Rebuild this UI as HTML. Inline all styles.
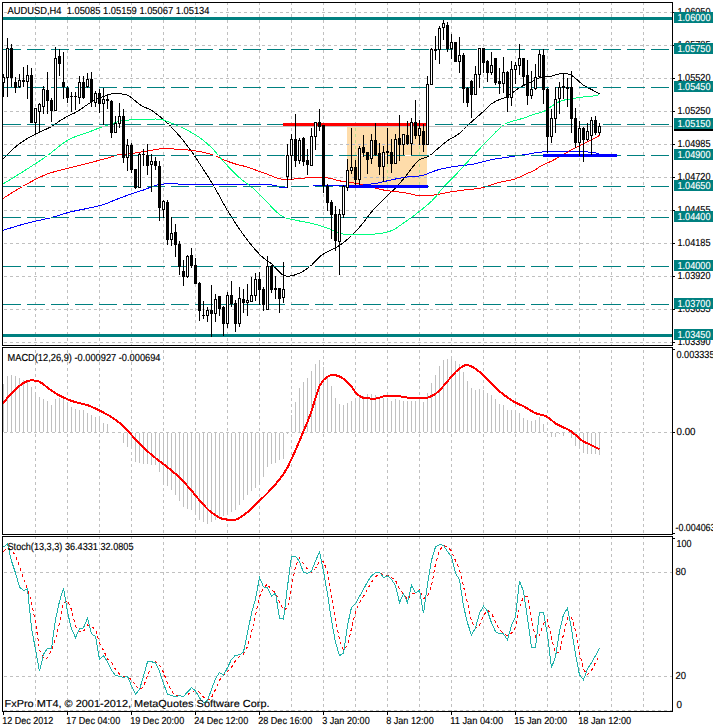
<!DOCTYPE html>
<html><head><meta charset="utf-8"><style>
html,body{margin:0;padding:0;background:#fff;overflow:hidden;}
svg{display:block;font-family:"Liberation Sans", sans-serif;}
</style></head><body>
<svg width="713" height="728" viewBox="0 0 713 728" shape-rendering="crispEdges">
<rect width="713" height="728" fill="#fff"/>
<defs><clipPath id="cm"><rect x="3" y="3" width="669" height="342"/></clipPath><clipPath id="cd"><rect x="3" y="348" width="669" height="186"/></clipPath><clipPath id="cs"><rect x="3" y="537" width="669" height="174"/></clipPath></defs>
<g clip-path="url(#cm)">
<rect x="347" y="125" width="80" height="62" fill="#fedcaa"/>
<line x1="35.5" y1="2" x2="35.5" y2="345" stroke="#c0c0c0" stroke-width="1" stroke-dasharray="3 3" stroke-dashoffset="0"/>
<line x1="67.5" y1="2" x2="67.5" y2="345" stroke="#c0c0c0" stroke-width="1" stroke-dasharray="3 3" stroke-dashoffset="0"/>
<line x1="99.5" y1="2" x2="99.5" y2="345" stroke="#c0c0c0" stroke-width="1" stroke-dasharray="3 3" stroke-dashoffset="0"/>
<line x1="131.5" y1="2" x2="131.5" y2="345" stroke="#c0c0c0" stroke-width="1" stroke-dasharray="3 3" stroke-dashoffset="0"/>
<line x1="163.5" y1="2" x2="163.5" y2="345" stroke="#c0c0c0" stroke-width="1" stroke-dasharray="3 3" stroke-dashoffset="0"/>
<line x1="195.5" y1="2" x2="195.5" y2="345" stroke="#c0c0c0" stroke-width="1" stroke-dasharray="3 3" stroke-dashoffset="0"/>
<line x1="227.5" y1="2" x2="227.5" y2="345" stroke="#c0c0c0" stroke-width="1" stroke-dasharray="3 3" stroke-dashoffset="0"/>
<line x1="259.5" y1="2" x2="259.5" y2="345" stroke="#c0c0c0" stroke-width="1" stroke-dasharray="3 3" stroke-dashoffset="0"/>
<line x1="291.5" y1="2" x2="291.5" y2="345" stroke="#c0c0c0" stroke-width="1" stroke-dasharray="3 3" stroke-dashoffset="0"/>
<line x1="323.5" y1="2" x2="323.5" y2="345" stroke="#c0c0c0" stroke-width="1" stroke-dasharray="3 3" stroke-dashoffset="0"/>
<line x1="355.5" y1="2" x2="355.5" y2="345" stroke="#c0c0c0" stroke-width="1" stroke-dasharray="3 3" stroke-dashoffset="0"/>
<line x1="387.5" y1="2" x2="387.5" y2="345" stroke="#c0c0c0" stroke-width="1" stroke-dasharray="3 3" stroke-dashoffset="0"/>
<line x1="419.5" y1="2" x2="419.5" y2="345" stroke="#c0c0c0" stroke-width="1" stroke-dasharray="3 3" stroke-dashoffset="0"/>
<line x1="451.5" y1="2" x2="451.5" y2="345" stroke="#c0c0c0" stroke-width="1" stroke-dasharray="3 3" stroke-dashoffset="0"/>
<line x1="483.5" y1="2" x2="483.5" y2="345" stroke="#c0c0c0" stroke-width="1" stroke-dasharray="3 3" stroke-dashoffset="0"/>
<line x1="515.5" y1="2" x2="515.5" y2="345" stroke="#c0c0c0" stroke-width="1" stroke-dasharray="3 3" stroke-dashoffset="0"/>
<line x1="547.5" y1="2" x2="547.5" y2="345" stroke="#c0c0c0" stroke-width="1" stroke-dasharray="3 3" stroke-dashoffset="0"/>
<line x1="579.5" y1="2" x2="579.5" y2="345" stroke="#c0c0c0" stroke-width="1" stroke-dasharray="3 3" stroke-dashoffset="0"/>
<line x1="611.5" y1="2" x2="611.5" y2="345" stroke="#c0c0c0" stroke-width="1" stroke-dasharray="3 3" stroke-dashoffset="0"/>
<line x1="643.5" y1="2" x2="643.5" y2="345" stroke="#c0c0c0" stroke-width="1" stroke-dasharray="3 3" stroke-dashoffset="0"/>
<line x1="4" y1="12.5" x2="672" y2="12.5" stroke="#c0c0c0" stroke-width="1" stroke-dasharray="3 3" stroke-dashoffset="0"/>
<line x1="4" y1="45.5" x2="672" y2="45.5" stroke="#c0c0c0" stroke-width="1" stroke-dasharray="3 3" stroke-dashoffset="0"/>
<line x1="4" y1="78.5" x2="672" y2="78.5" stroke="#c0c0c0" stroke-width="1" stroke-dasharray="3 3" stroke-dashoffset="0"/>
<line x1="4" y1="111.5" x2="672" y2="111.5" stroke="#c0c0c0" stroke-width="1" stroke-dasharray="3 3" stroke-dashoffset="0"/>
<line x1="4" y1="144.5" x2="672" y2="144.5" stroke="#c0c0c0" stroke-width="1" stroke-dasharray="3 3" stroke-dashoffset="0"/>
<line x1="4" y1="177.5" x2="672" y2="177.5" stroke="#c0c0c0" stroke-width="1" stroke-dasharray="3 3" stroke-dashoffset="0"/>
<line x1="4" y1="210.5" x2="672" y2="210.5" stroke="#c0c0c0" stroke-width="1" stroke-dasharray="3 3" stroke-dashoffset="0"/>
<line x1="4" y1="243.5" x2="672" y2="243.5" stroke="#c0c0c0" stroke-width="1" stroke-dasharray="3 3" stroke-dashoffset="0"/>
<line x1="4" y1="276.5" x2="672" y2="276.5" stroke="#c0c0c0" stroke-width="1" stroke-dasharray="3 3" stroke-dashoffset="0"/>
<line x1="4" y1="309.5" x2="672" y2="309.5" stroke="#c0c0c0" stroke-width="1" stroke-dasharray="3 3" stroke-dashoffset="0"/>
<line x1="4" y1="342.5" x2="672" y2="342.5" stroke="#c0c0c0" stroke-width="1" stroke-dasharray="3 3" stroke-dashoffset="0"/>
<clipPath id="cr"><rect x="347" y="125" width="80" height="62"/></clipPath><g clip-path="url(#cr)">
<line x1="35.5" y1="2" x2="35.5" y2="345" stroke="#b8dc90" stroke-width="1" stroke-dasharray="3 3" stroke-dashoffset="0"/>
<line x1="67.5" y1="2" x2="67.5" y2="345" stroke="#b8dc90" stroke-width="1" stroke-dasharray="3 3" stroke-dashoffset="0"/>
<line x1="99.5" y1="2" x2="99.5" y2="345" stroke="#b8dc90" stroke-width="1" stroke-dasharray="3 3" stroke-dashoffset="0"/>
<line x1="131.5" y1="2" x2="131.5" y2="345" stroke="#b8dc90" stroke-width="1" stroke-dasharray="3 3" stroke-dashoffset="0"/>
<line x1="163.5" y1="2" x2="163.5" y2="345" stroke="#b8dc90" stroke-width="1" stroke-dasharray="3 3" stroke-dashoffset="0"/>
<line x1="195.5" y1="2" x2="195.5" y2="345" stroke="#b8dc90" stroke-width="1" stroke-dasharray="3 3" stroke-dashoffset="0"/>
<line x1="227.5" y1="2" x2="227.5" y2="345" stroke="#b8dc90" stroke-width="1" stroke-dasharray="3 3" stroke-dashoffset="0"/>
<line x1="259.5" y1="2" x2="259.5" y2="345" stroke="#b8dc90" stroke-width="1" stroke-dasharray="3 3" stroke-dashoffset="0"/>
<line x1="291.5" y1="2" x2="291.5" y2="345" stroke="#b8dc90" stroke-width="1" stroke-dasharray="3 3" stroke-dashoffset="0"/>
<line x1="323.5" y1="2" x2="323.5" y2="345" stroke="#b8dc90" stroke-width="1" stroke-dasharray="3 3" stroke-dashoffset="0"/>
<line x1="355.5" y1="2" x2="355.5" y2="345" stroke="#b8dc90" stroke-width="1" stroke-dasharray="3 3" stroke-dashoffset="0"/>
<line x1="387.5" y1="2" x2="387.5" y2="345" stroke="#b8dc90" stroke-width="1" stroke-dasharray="3 3" stroke-dashoffset="0"/>
<line x1="419.5" y1="2" x2="419.5" y2="345" stroke="#b8dc90" stroke-width="1" stroke-dasharray="3 3" stroke-dashoffset="0"/>
<line x1="451.5" y1="2" x2="451.5" y2="345" stroke="#b8dc90" stroke-width="1" stroke-dasharray="3 3" stroke-dashoffset="0"/>
<line x1="483.5" y1="2" x2="483.5" y2="345" stroke="#b8dc90" stroke-width="1" stroke-dasharray="3 3" stroke-dashoffset="0"/>
<line x1="515.5" y1="2" x2="515.5" y2="345" stroke="#b8dc90" stroke-width="1" stroke-dasharray="3 3" stroke-dashoffset="0"/>
<line x1="547.5" y1="2" x2="547.5" y2="345" stroke="#b8dc90" stroke-width="1" stroke-dasharray="3 3" stroke-dashoffset="0"/>
<line x1="579.5" y1="2" x2="579.5" y2="345" stroke="#b8dc90" stroke-width="1" stroke-dasharray="3 3" stroke-dashoffset="0"/>
<line x1="611.5" y1="2" x2="611.5" y2="345" stroke="#b8dc90" stroke-width="1" stroke-dasharray="3 3" stroke-dashoffset="0"/>
<line x1="643.5" y1="2" x2="643.5" y2="345" stroke="#b8dc90" stroke-width="1" stroke-dasharray="3 3" stroke-dashoffset="0"/>
<line x1="4" y1="12.5" x2="672" y2="12.5" stroke="#b4bccc" stroke-width="1" stroke-dasharray="3 3" stroke-dashoffset="0"/>
<line x1="4" y1="45.5" x2="672" y2="45.5" stroke="#b4bccc" stroke-width="1" stroke-dasharray="3 3" stroke-dashoffset="0"/>
<line x1="4" y1="78.5" x2="672" y2="78.5" stroke="#b4bccc" stroke-width="1" stroke-dasharray="3 3" stroke-dashoffset="0"/>
<line x1="4" y1="111.5" x2="672" y2="111.5" stroke="#b4bccc" stroke-width="1" stroke-dasharray="3 3" stroke-dashoffset="0"/>
<line x1="4" y1="144.5" x2="672" y2="144.5" stroke="#b4bccc" stroke-width="1" stroke-dasharray="3 3" stroke-dashoffset="0"/>
<line x1="4" y1="177.5" x2="672" y2="177.5" stroke="#b4bccc" stroke-width="1" stroke-dasharray="3 3" stroke-dashoffset="0"/>
<line x1="4" y1="210.5" x2="672" y2="210.5" stroke="#b4bccc" stroke-width="1" stroke-dasharray="3 3" stroke-dashoffset="0"/>
<line x1="4" y1="243.5" x2="672" y2="243.5" stroke="#b4bccc" stroke-width="1" stroke-dasharray="3 3" stroke-dashoffset="0"/>
<line x1="4" y1="276.5" x2="672" y2="276.5" stroke="#b4bccc" stroke-width="1" stroke-dasharray="3 3" stroke-dashoffset="0"/>
<line x1="4" y1="309.5" x2="672" y2="309.5" stroke="#b4bccc" stroke-width="1" stroke-dasharray="3 3" stroke-dashoffset="0"/>
<line x1="4" y1="342.5" x2="672" y2="342.5" stroke="#b4bccc" stroke-width="1" stroke-dasharray="3 3" stroke-dashoffset="0"/>
</g>
<polyline points="-0.5,231.5 3.5,230.2 7.5,228.9 11.5,227.7 15.5,226.5 19.5,225.3 23.5,224.2 27.5,223.1 31.5,222.1 35.5,221.2 39.5,220.3 43.5,219.4 47.5,218.5 51.5,217.5 55.5,216.4 59.5,215.1 63.5,213.9 67.5,212.7 71.5,211.7 75.5,210.8 79.5,210.0 83.5,209.2 87.5,208.4 91.5,207.5 95.5,206.6 99.5,205.7 103.5,204.5 107.5,203.1 111.5,201.4 115.5,199.8 119.5,198.2 123.5,196.7 127.5,195.3 131.5,193.9 135.5,192.6 139.5,191.3 143.5,190.0 147.5,188.4 151.5,186.8 155.5,185.4 159.5,184.6 163.5,184.1 167.5,183.7 171.5,183.4 175.5,183.3 179.5,184.3 183.5,184.6 187.5,184.6 191.5,184.6 195.5,184.6 199.5,184.6 203.5,184.6 207.5,184.6 211.5,184.6 215.5,184.6 219.5,184.6 223.5,184.6 227.5,184.6 231.5,184.6 235.5,184.7 239.5,184.7 243.5,184.7 247.5,184.7 251.5,184.8 255.5,184.8 259.5,184.8 263.5,184.9 267.5,184.9 271.5,185.0 275.5,185.2 279.5,187.0 283.5,187.0 287.5,187.0 291.5,186.5 295.5,186.5 299.5,186.5 303.5,186.5 307.5,186.5 311.5,186.5 315.5,185.5 319.5,185.5 323.5,185.5 327.5,185.5 331.5,185.5 335.5,185.5 339.5,185.5 343.5,185.5 347.5,185.5 351.5,185.5 355.5,185.3 359.5,185.1 363.5,184.8 367.5,184.4 371.5,184.0 375.5,183.5 379.5,182.7 383.5,181.7 387.5,180.8 391.5,179.9 395.5,179.0 399.5,178.2 403.5,177.5 407.5,177.0 411.5,176.7 415.5,176.4 419.5,176.0 423.5,175.2 427.5,173.8 431.5,172.1 435.5,170.6 439.5,169.4 443.5,168.5 447.5,167.7 451.5,166.9 455.5,166.3 459.5,165.8 463.5,165.4 467.5,165.0 471.5,164.5 475.5,163.7 479.5,162.7 483.5,161.6 487.5,160.6 491.5,159.6 495.5,159.0 499.5,158.4 503.5,157.8 507.5,157.2 511.5,156.6 515.5,156.0 519.5,155.4 523.5,154.8 527.5,154.2 531.5,153.5 535.5,152.7 539.5,152.2 543.5,151.9 547.5,151.7 551.5,151.6 555.5,151.6 559.5,151.5 563.5,151.5 567.5,151.5 571.5,151.4 575.5,151.4 579.5,151.4 583.5,151.5 587.5,152.0 591.5,152.6 595.5,153.0 599.5,153.4" fill="none" stroke="#0000ff" stroke-width="1" shape-rendering="crispEdges"/>
<polyline points="-0.5,163.2 3.5,158.6 7.5,154.3 11.5,150.4 15.5,146.9 19.5,143.8 23.5,140.9 27.5,138.4 31.5,136.2 35.5,134.1 39.5,132.1 43.5,130.4 47.5,128.5 51.5,126.5 55.5,124.0 59.5,121.1 63.5,118.5 67.5,116.3 71.5,114.4 75.5,112.5 79.5,110.1 83.5,107.3 87.5,104.5 91.5,102.1 95.5,99.8 99.5,97.9 103.5,96.4 107.5,95.0 111.5,93.9 115.5,93.5 119.5,93.7 123.5,94.3 127.5,95.2 131.5,97.7 135.5,101.0 139.5,104.4 143.5,106.8 147.5,108.4 151.5,110.4 155.5,113.1 159.5,116.2 163.5,119.6 167.5,123.2 171.5,127.2 175.5,131.5 179.5,136.0 183.5,140.8 187.5,146.0 191.5,151.4 195.5,157.3 199.5,163.4 203.5,169.6 207.5,175.8 211.5,182.2 215.5,189.0 219.5,196.2 223.5,203.6 227.5,210.5 231.5,216.9 235.5,223.2 239.5,229.2 243.5,234.8 247.5,240.2 251.5,245.3 255.5,250.0 259.5,254.3 263.5,258.1 267.5,261.0 271.5,263.7 275.5,268.0 279.5,272.1 283.5,275.6 287.5,276.3 291.5,275.9 295.5,274.7 299.5,273.2 303.5,271.0 307.5,268.4 311.5,265.3 315.5,261.0 319.5,256.8 323.5,253.9 327.5,251.7 331.5,249.8 335.5,247.8 339.5,245.5 343.5,242.6 347.5,239.2 351.5,235.5 355.5,231.5 359.5,227.3 363.5,222.5 367.5,217.2 371.5,212.0 375.5,207.5 379.5,203.4 383.5,199.6 387.5,195.7 391.5,191.8 395.5,187.9 399.5,183.6 403.5,178.9 407.5,174.0 411.5,168.6 415.5,163.5 419.5,159.8 423.5,158.1 427.5,156.9 431.5,154.4 435.5,150.7 439.5,147.3 443.5,143.8 447.5,140.7 451.5,138.2 455.5,136.1 459.5,133.2 463.5,129.5 467.5,125.6 471.5,121.9 475.5,118.4 479.5,114.9 483.5,111.4 487.5,107.5 491.5,103.8 495.5,101.3 499.5,99.6 503.5,98.1 507.5,96.1 511.5,93.4 515.5,90.4 519.5,87.7 523.5,85.5 527.5,83.5 531.5,81.6 535.5,79.7 539.5,77.8 543.5,76.8 547.5,76.6 551.5,76.2 555.5,74.9 559.5,73.8 563.5,73.4 567.5,73.7 571.5,75.1 575.5,78.4 579.5,81.9 583.5,85.3 587.5,87.6 591.5,89.5 595.5,91.6 599.5,93.9" fill="none" stroke="#000000" stroke-width="1" shape-rendering="crispEdges"/>
<polyline points="-0.5,200.9 3.5,198.2 7.5,195.6 11.5,193.0 15.5,190.6 19.5,188.2 23.5,186.0 27.5,183.7 31.5,181.5 35.5,179.4 39.5,177.4 43.5,175.5 47.5,173.9 51.5,172.6 55.5,171.4 59.5,170.4 63.5,169.4 67.5,168.4 71.5,167.4 75.5,166.3 79.5,165.4 83.5,164.4 87.5,163.4 91.5,162.4 95.5,161.3 99.5,160.2 103.5,159.2 107.5,158.1 111.5,156.9 115.5,155.5 119.5,154.5 123.5,154.2 127.5,153.9 131.5,153.5 135.5,152.9 139.5,152.2 143.5,151.5 147.5,150.9 151.5,150.3 155.5,149.6 159.5,149.0 163.5,148.8 167.5,148.8 171.5,148.9 175.5,149.1 179.5,149.2 183.5,149.5 187.5,149.9 191.5,150.4 195.5,151.0 199.5,151.6 203.5,152.4 207.5,153.3 211.5,154.4 215.5,155.9 219.5,157.8 223.5,159.7 227.5,161.3 231.5,162.7 235.5,164.0 239.5,165.1 243.5,166.0 247.5,167.1 251.5,168.5 255.5,170.0 259.5,171.5 263.5,172.9 267.5,174.3 271.5,175.8 275.5,177.6 279.5,178.8 283.5,179.3 287.5,179.5 291.5,179.3 295.5,178.8 299.5,178.5 303.5,178.1 307.5,177.8 311.5,177.5 315.5,177.3 319.5,177.2 323.5,177.4 327.5,177.9 331.5,178.5 335.5,179.9 339.5,180.9 343.5,181.3 347.5,181.7 351.5,182.4 355.5,183.3 359.5,184.2 363.5,185.1 367.5,186.2 371.5,187.2 375.5,188.1 379.5,189.1 383.5,190.0 387.5,190.7 391.5,191.3 395.5,191.7 399.5,192.1 403.5,192.6 407.5,193.3 411.5,194.2 415.5,195.2 419.5,195.7 423.5,195.7 427.5,195.5 431.5,195.3 435.5,194.9 439.5,194.1 443.5,193.2 447.5,192.5 451.5,191.8 455.5,191.2 459.5,190.6 463.5,190.1 467.5,189.6 471.5,189.3 475.5,188.9 479.5,188.4 483.5,187.5 487.5,186.1 491.5,184.8 495.5,183.5 499.5,182.3 503.5,181.4 507.5,180.7 511.5,179.9 515.5,178.8 519.5,177.1 523.5,175.1 527.5,173.3 531.5,171.7 535.5,169.7 539.5,166.9 543.5,164.6 547.5,162.9 551.5,161.1 555.5,159.0 559.5,156.8 563.5,154.5 567.5,152.1 571.5,149.8 575.5,147.7 579.5,145.7 583.5,143.7 587.5,141.8 591.5,139.8 595.5,137.7 599.5,135.4" fill="none" stroke="#ff0000" stroke-width="1" shape-rendering="crispEdges"/>
<polyline points="-0.5,186.0 3.5,183.6 7.5,181.2 11.5,178.8 15.5,176.3 19.5,173.8 23.5,171.3 27.5,168.8 31.5,166.2 35.5,163.6 39.5,161.0 43.5,158.3 47.5,155.5 51.5,152.4 55.5,149.2 59.5,146.0 63.5,143.0 67.5,140.3 71.5,138.3 75.5,136.6 79.5,135.1 83.5,133.7 87.5,132.4 91.5,131.0 95.5,129.4 99.5,127.9 103.5,126.4 107.5,125.1 111.5,123.8 115.5,122.5 119.5,121.4 123.5,120.6 127.5,120.1 131.5,119.8 135.5,119.6 139.5,119.5 143.5,119.3 147.5,119.2 151.5,119.1 155.5,119.0 159.5,119.1 163.5,120.0 167.5,121.5 171.5,123.2 175.5,124.8 179.5,126.5 183.5,128.3 187.5,130.3 191.5,132.5 195.5,134.9 199.5,137.5 203.5,140.5 207.5,143.9 211.5,147.6 215.5,151.9 219.5,156.7 223.5,161.5 227.5,165.8 231.5,170.0 235.5,174.1 239.5,177.8 243.5,181.1 247.5,184.1 251.5,187.0 255.5,190.3 259.5,194.3 263.5,198.6 267.5,202.6 271.5,206.9 275.5,211.0 279.5,214.5 283.5,217.0 287.5,218.4 291.5,219.3 295.5,220.2 299.5,221.0 303.5,221.8 307.5,222.5 311.5,223.3 315.5,224.3 319.5,225.4 323.5,226.7 327.5,228.1 331.5,229.8 335.5,231.9 339.5,233.5 343.5,234.1 347.5,234.4 351.5,234.7 355.5,234.8 359.5,234.8 363.5,234.7 367.5,234.5 371.5,234.2 375.5,234.0 379.5,233.6 383.5,232.9 387.5,231.9 391.5,230.7 395.5,228.6 399.5,225.9 403.5,223.0 407.5,220.2 411.5,217.4 415.5,214.4 419.5,211.3 423.5,208.1 427.5,204.8 431.5,201.3 435.5,197.0 439.5,191.9 443.5,187.1 447.5,182.9 451.5,179.0 455.5,175.0 459.5,170.7 463.5,166.3 467.5,161.9 471.5,157.5 475.5,153.2 479.5,148.9 483.5,144.6 487.5,140.5 491.5,136.4 495.5,132.2 499.5,128.3 503.5,125.0 507.5,122.9 511.5,121.5 515.5,120.4 519.5,119.3 523.5,118.1 527.5,116.7 531.5,115.2 535.5,113.9 539.5,112.8 543.5,111.5 547.5,109.3 551.5,106.4 555.5,103.4 559.5,101.5 563.5,100.2 567.5,99.4 571.5,98.7 575.5,98.1 579.5,97.5 583.5,97.0 587.5,96.6 591.5,96.2 595.5,95.6 599.5,94.5" fill="none" stroke="#00ff7f" stroke-width="1" shape-rendering="crispEdges"/>
<rect x="3" y="17" width="669" height="3" fill="#008080"/>
<line x1="3" y1="49.5" x2="672" y2="49.5" stroke="#fff" stroke-width="1"/>
<line x1="3" y1="49.5" x2="672" y2="49.5" stroke="#008080" stroke-width="1" stroke-dasharray="18 6" stroke-dashoffset="0"/>
<line x1="3" y1="87.5" x2="672" y2="87.5" stroke="#fff" stroke-width="1"/>
<line x1="3" y1="87.5" x2="672" y2="87.5" stroke="#008080" stroke-width="1" stroke-dasharray="18 6" stroke-dashoffset="0"/>
<line x1="3" y1="124.5" x2="672" y2="124.5" stroke="#fff" stroke-width="1"/>
<line x1="3" y1="124.5" x2="672" y2="124.5" stroke="#008080" stroke-width="1" stroke-dasharray="18 6" stroke-dashoffset="0"/>
<line x1="3" y1="155.5" x2="672" y2="155.5" stroke="#fff" stroke-width="1"/>
<line x1="3" y1="155.5" x2="672" y2="155.5" stroke="#008080" stroke-width="1" stroke-dasharray="18 6" stroke-dashoffset="0"/>
<line x1="3" y1="186.5" x2="672" y2="186.5" stroke="#fff" stroke-width="1"/>
<line x1="3" y1="186.5" x2="672" y2="186.5" stroke="#008080" stroke-width="1" stroke-dasharray="18 6" stroke-dashoffset="0"/>
<line x1="3" y1="217.5" x2="672" y2="217.5" stroke="#fff" stroke-width="1"/>
<line x1="3" y1="217.5" x2="672" y2="217.5" stroke="#008080" stroke-width="1" stroke-dasharray="18 6" stroke-dashoffset="0"/>
<line x1="3" y1="266.5" x2="672" y2="266.5" stroke="#fff" stroke-width="1"/>
<line x1="3" y1="266.5" x2="672" y2="266.5" stroke="#008080" stroke-width="1" stroke-dasharray="18 6" stroke-dashoffset="0"/>
<line x1="3" y1="304.5" x2="672" y2="304.5" stroke="#fff" stroke-width="1"/>
<line x1="3" y1="304.5" x2="672" y2="304.5" stroke="#008080" stroke-width="1" stroke-dasharray="18 6" stroke-dashoffset="0"/>
<rect x="3" y="334" width="669" height="3" fill="#008080"/>
<line x1="3" y1="126.5" x2="672" y2="126.5" stroke="#c0c0c0" stroke-width="1"/>
<rect x="283" y="123" width="145" height="3" fill="#ff0000"/>
<rect x="347" y="185" width="81" height="3" fill="#0000ff"/>
<rect x="543" y="154" width="74" height="3" fill="#0000ff"/>
<rect x="3" y="74" width="1" height="3" fill="#000"/>
<rect x="3" y="83" width="1" height="14" fill="#000"/>
<rect x="2" y="77" width="3" height="6" fill="#000"/>
<rect x="3" y="78" width="1" height="4" fill="#fff"/>
<rect x="7" y="38" width="1" height="10" fill="#000"/>
<rect x="7" y="78" width="1" height="19" fill="#000"/>
<rect x="6" y="48" width="3" height="30" fill="#000"/>
<rect x="7" y="49" width="1" height="28" fill="#fff"/>
<rect x="11" y="44" width="1" height="4" fill="#000"/>
<rect x="11" y="78" width="1" height="9" fill="#000"/>
<rect x="10" y="48" width="3" height="30" fill="#000"/>
<rect x="15" y="77" width="1" height="5" fill="#000"/>
<rect x="15" y="88" width="1" height="5" fill="#000"/>
<rect x="14" y="82" width="3" height="6" fill="#000"/>
<rect x="19" y="74" width="1" height="6" fill="#000"/>
<rect x="19" y="87" width="1" height="1" fill="#000"/>
<rect x="18" y="80" width="3" height="7" fill="#000"/>
<rect x="19" y="81" width="1" height="5" fill="#fff"/>
<rect x="23" y="67" width="1" height="13" fill="#000"/>
<rect x="23" y="82" width="1" height="5" fill="#000"/>
<rect x="22" y="80" width="3" height="2" fill="#000"/>
<rect x="27" y="65" width="1" height="10" fill="#000"/>
<rect x="27" y="82" width="1" height="17" fill="#000"/>
<rect x="26" y="75" width="3" height="7" fill="#000"/>
<rect x="27" y="76" width="1" height="5" fill="#fff"/>
<rect x="31" y="68" width="1" height="7" fill="#000"/>
<rect x="30" y="75" width="3" height="48" fill="#000"/>
<rect x="35" y="123" width="1" height="12" fill="#000"/>
<rect x="34" y="108" width="3" height="15" fill="#000"/>
<rect x="35" y="109" width="1" height="13" fill="#fff"/>
<rect x="39" y="103" width="1" height="1" fill="#000"/>
<rect x="39" y="112" width="1" height="20" fill="#000"/>
<rect x="38" y="104" width="3" height="8" fill="#000"/>
<rect x="39" y="105" width="1" height="6" fill="#fff"/>
<rect x="43" y="86" width="1" height="3" fill="#000"/>
<rect x="43" y="107" width="1" height="7" fill="#000"/>
<rect x="42" y="89" width="3" height="18" fill="#000"/>
<rect x="43" y="90" width="1" height="16" fill="#fff"/>
<rect x="47" y="72" width="1" height="18" fill="#000"/>
<rect x="47" y="101" width="1" height="13" fill="#000"/>
<rect x="46" y="90" width="3" height="11" fill="#000"/>
<rect x="51" y="98" width="1" height="2" fill="#000"/>
<rect x="51" y="111" width="1" height="11" fill="#000"/>
<rect x="50" y="100" width="3" height="11" fill="#000"/>
<rect x="55" y="47" width="1" height="11" fill="#000"/>
<rect x="54" y="58" width="3" height="53" fill="#000"/>
<rect x="55" y="59" width="1" height="51" fill="#fff"/>
<rect x="59" y="49" width="1" height="7" fill="#000"/>
<rect x="59" y="64" width="1" height="12" fill="#000"/>
<rect x="58" y="56" width="3" height="8" fill="#000"/>
<rect x="63" y="52" width="1" height="30" fill="#000"/>
<rect x="63" y="87" width="1" height="12" fill="#000"/>
<rect x="62" y="82" width="3" height="5" fill="#000"/>
<rect x="67" y="86" width="1" height="2" fill="#000"/>
<rect x="67" y="98" width="1" height="5" fill="#000"/>
<rect x="66" y="88" width="3" height="10" fill="#000"/>
<rect x="71" y="92" width="1" height="4" fill="#000"/>
<rect x="71" y="97" width="1" height="15" fill="#000"/>
<rect x="70" y="96" width="3" height="1" fill="#000"/>
<rect x="75" y="92" width="1" height="4" fill="#000"/>
<rect x="75" y="97" width="1" height="13" fill="#000"/>
<rect x="74" y="96" width="3" height="1" fill="#000"/>
<rect x="79" y="76" width="1" height="6" fill="#000"/>
<rect x="79" y="98" width="1" height="6" fill="#000"/>
<rect x="78" y="82" width="3" height="16" fill="#000"/>
<rect x="79" y="83" width="1" height="14" fill="#fff"/>
<rect x="83" y="76" width="1" height="6" fill="#000"/>
<rect x="83" y="98" width="1" height="1" fill="#000"/>
<rect x="82" y="82" width="3" height="16" fill="#000"/>
<rect x="87" y="73" width="1" height="6" fill="#000"/>
<rect x="87" y="87" width="1" height="1" fill="#000"/>
<rect x="86" y="79" width="3" height="8" fill="#000"/>
<rect x="87" y="80" width="1" height="6" fill="#fff"/>
<rect x="91" y="72" width="1" height="7" fill="#000"/>
<rect x="91" y="102" width="1" height="5" fill="#000"/>
<rect x="90" y="79" width="3" height="23" fill="#000"/>
<rect x="95" y="91" width="1" height="2" fill="#000"/>
<rect x="95" y="103" width="1" height="4" fill="#000"/>
<rect x="94" y="93" width="3" height="10" fill="#000"/>
<rect x="95" y="94" width="1" height="8" fill="#fff"/>
<rect x="99" y="89" width="1" height="4" fill="#000"/>
<rect x="99" y="104" width="1" height="9" fill="#000"/>
<rect x="98" y="93" width="3" height="11" fill="#000"/>
<rect x="103" y="88" width="1" height="11" fill="#000"/>
<rect x="103" y="104" width="1" height="21" fill="#000"/>
<rect x="102" y="99" width="3" height="5" fill="#000"/>
<rect x="103" y="100" width="1" height="3" fill="#fff"/>
<rect x="107" y="95" width="1" height="4" fill="#000"/>
<rect x="107" y="101" width="1" height="8" fill="#000"/>
<rect x="106" y="99" width="3" height="2" fill="#000"/>
<rect x="111" y="100" width="1" height="1" fill="#000"/>
<rect x="111" y="133" width="1" height="5" fill="#000"/>
<rect x="110" y="101" width="3" height="32" fill="#000"/>
<rect x="115" y="116" width="1" height="7" fill="#000"/>
<rect x="114" y="123" width="3" height="10" fill="#000"/>
<rect x="115" y="124" width="1" height="8" fill="#fff"/>
<rect x="119" y="103" width="1" height="13" fill="#000"/>
<rect x="119" y="124" width="1" height="4" fill="#000"/>
<rect x="118" y="116" width="3" height="8" fill="#000"/>
<rect x="119" y="117" width="1" height="6" fill="#fff"/>
<rect x="123" y="109" width="1" height="7" fill="#000"/>
<rect x="123" y="158" width="1" height="5" fill="#000"/>
<rect x="122" y="116" width="3" height="42" fill="#000"/>
<rect x="127" y="139" width="1" height="6" fill="#000"/>
<rect x="127" y="158" width="1" height="13" fill="#000"/>
<rect x="126" y="145" width="3" height="13" fill="#000"/>
<rect x="127" y="146" width="1" height="11" fill="#fff"/>
<rect x="131" y="143" width="1" height="2" fill="#000"/>
<rect x="131" y="170" width="1" height="3" fill="#000"/>
<rect x="130" y="145" width="3" height="25" fill="#000"/>
<rect x="135" y="188" width="1" height="1" fill="#000"/>
<rect x="134" y="169" width="3" height="19" fill="#000"/>
<rect x="139" y="153" width="1" height="1" fill="#000"/>
<rect x="138" y="154" width="3" height="34" fill="#000"/>
<rect x="139" y="155" width="1" height="32" fill="#fff"/>
<rect x="143" y="149" width="1" height="5" fill="#000"/>
<rect x="143" y="155" width="1" height="11" fill="#000"/>
<rect x="142" y="154" width="3" height="1" fill="#000"/>
<rect x="147" y="144" width="1" height="11" fill="#000"/>
<rect x="147" y="166" width="1" height="9" fill="#000"/>
<rect x="146" y="155" width="3" height="11" fill="#000"/>
<rect x="151" y="154" width="1" height="7" fill="#000"/>
<rect x="151" y="165" width="1" height="27" fill="#000"/>
<rect x="150" y="161" width="3" height="4" fill="#000"/>
<rect x="151" y="162" width="1" height="2" fill="#fff"/>
<rect x="155" y="157" width="1" height="4" fill="#000"/>
<rect x="155" y="166" width="1" height="4" fill="#000"/>
<rect x="154" y="161" width="3" height="5" fill="#000"/>
<rect x="159" y="161" width="1" height="5" fill="#000"/>
<rect x="159" y="208" width="1" height="13" fill="#000"/>
<rect x="158" y="166" width="3" height="42" fill="#000"/>
<rect x="163" y="200" width="1" height="1" fill="#000"/>
<rect x="163" y="210" width="1" height="8" fill="#000"/>
<rect x="162" y="201" width="3" height="9" fill="#000"/>
<rect x="163" y="202" width="1" height="7" fill="#fff"/>
<rect x="167" y="200" width="1" height="2" fill="#000"/>
<rect x="167" y="240" width="1" height="5" fill="#000"/>
<rect x="166" y="202" width="3" height="38" fill="#000"/>
<rect x="171" y="217" width="1" height="16" fill="#000"/>
<rect x="171" y="240" width="1" height="6" fill="#000"/>
<rect x="170" y="233" width="3" height="7" fill="#000"/>
<rect x="171" y="234" width="1" height="5" fill="#fff"/>
<rect x="175" y="224" width="1" height="8" fill="#000"/>
<rect x="175" y="245" width="1" height="12" fill="#000"/>
<rect x="174" y="232" width="3" height="13" fill="#000"/>
<rect x="179" y="241" width="1" height="3" fill="#000"/>
<rect x="179" y="267" width="1" height="8" fill="#000"/>
<rect x="178" y="244" width="3" height="23" fill="#000"/>
<rect x="183" y="260" width="1" height="11" fill="#000"/>
<rect x="183" y="277" width="1" height="9" fill="#000"/>
<rect x="182" y="271" width="3" height="6" fill="#000"/>
<rect x="187" y="255" width="1" height="1" fill="#000"/>
<rect x="187" y="277" width="1" height="1" fill="#000"/>
<rect x="186" y="256" width="3" height="21" fill="#000"/>
<rect x="187" y="257" width="1" height="19" fill="#fff"/>
<rect x="191" y="248" width="1" height="7" fill="#000"/>
<rect x="191" y="266" width="1" height="2" fill="#000"/>
<rect x="190" y="255" width="3" height="11" fill="#000"/>
<rect x="195" y="258" width="1" height="7" fill="#000"/>
<rect x="194" y="265" width="3" height="19" fill="#000"/>
<rect x="199" y="282" width="1" height="1" fill="#000"/>
<rect x="199" y="311" width="1" height="10" fill="#000"/>
<rect x="198" y="283" width="3" height="28" fill="#000"/>
<rect x="203" y="301" width="1" height="14" fill="#000"/>
<rect x="203" y="316" width="1" height="3" fill="#000"/>
<rect x="202" y="315" width="3" height="1" fill="#000"/>
<rect x="207" y="307" width="1" height="3" fill="#000"/>
<rect x="207" y="316" width="1" height="6" fill="#000"/>
<rect x="206" y="310" width="3" height="6" fill="#000"/>
<rect x="207" y="311" width="1" height="4" fill="#fff"/>
<rect x="211" y="285" width="1" height="25" fill="#000"/>
<rect x="211" y="314" width="1" height="23" fill="#000"/>
<rect x="210" y="310" width="3" height="4" fill="#000"/>
<rect x="215" y="294" width="1" height="5" fill="#000"/>
<rect x="215" y="314" width="1" height="8" fill="#000"/>
<rect x="214" y="299" width="3" height="15" fill="#000"/>
<rect x="215" y="300" width="1" height="13" fill="#fff"/>
<rect x="219" y="309" width="1" height="7" fill="#000"/>
<rect x="218" y="296" width="3" height="13" fill="#000"/>
<rect x="223" y="306" width="1" height="1" fill="#000"/>
<rect x="223" y="324" width="1" height="12" fill="#000"/>
<rect x="222" y="307" width="3" height="17" fill="#000"/>
<rect x="227" y="292" width="1" height="3" fill="#000"/>
<rect x="227" y="324" width="1" height="4" fill="#000"/>
<rect x="226" y="295" width="3" height="29" fill="#000"/>
<rect x="227" y="296" width="1" height="27" fill="#fff"/>
<rect x="231" y="281" width="1" height="14" fill="#000"/>
<rect x="231" y="304" width="1" height="3" fill="#000"/>
<rect x="230" y="295" width="3" height="9" fill="#000"/>
<rect x="235" y="300" width="1" height="3" fill="#000"/>
<rect x="235" y="324" width="1" height="8" fill="#000"/>
<rect x="234" y="303" width="3" height="21" fill="#000"/>
<rect x="239" y="287" width="1" height="11" fill="#000"/>
<rect x="239" y="324" width="1" height="3" fill="#000"/>
<rect x="238" y="298" width="3" height="26" fill="#000"/>
<rect x="239" y="299" width="1" height="24" fill="#fff"/>
<rect x="243" y="289" width="1" height="10" fill="#000"/>
<rect x="243" y="303" width="1" height="10" fill="#000"/>
<rect x="242" y="299" width="3" height="4" fill="#000"/>
<rect x="247" y="284" width="1" height="16" fill="#000"/>
<rect x="247" y="303" width="1" height="13" fill="#000"/>
<rect x="246" y="300" width="3" height="3" fill="#000"/>
<rect x="247" y="301" width="1" height="1" fill="#fff"/>
<rect x="251" y="277" width="1" height="18" fill="#000"/>
<rect x="250" y="295" width="3" height="7" fill="#000"/>
<rect x="251" y="296" width="1" height="5" fill="#fff"/>
<rect x="255" y="273" width="1" height="6" fill="#000"/>
<rect x="255" y="296" width="1" height="5" fill="#000"/>
<rect x="254" y="279" width="3" height="17" fill="#000"/>
<rect x="255" y="280" width="1" height="15" fill="#fff"/>
<rect x="259" y="272" width="1" height="7" fill="#000"/>
<rect x="259" y="290" width="1" height="15" fill="#000"/>
<rect x="258" y="279" width="3" height="11" fill="#000"/>
<rect x="263" y="287" width="1" height="2" fill="#000"/>
<rect x="263" y="305" width="1" height="6" fill="#000"/>
<rect x="262" y="289" width="3" height="16" fill="#000"/>
<rect x="267" y="256" width="1" height="10" fill="#000"/>
<rect x="266" y="266" width="3" height="44" fill="#000"/>
<rect x="267" y="267" width="1" height="42" fill="#fff"/>
<rect x="271" y="265" width="1" height="1" fill="#000"/>
<rect x="271" y="290" width="1" height="3" fill="#000"/>
<rect x="270" y="266" width="3" height="24" fill="#000"/>
<rect x="275" y="276" width="1" height="12" fill="#000"/>
<rect x="275" y="290" width="1" height="9" fill="#000"/>
<rect x="274" y="288" width="3" height="2" fill="#000"/>
<rect x="279" y="299" width="1" height="14" fill="#000"/>
<rect x="278" y="288" width="3" height="11" fill="#000"/>
<rect x="283" y="262" width="1" height="27" fill="#000"/>
<rect x="283" y="298" width="1" height="5" fill="#000"/>
<rect x="282" y="289" width="3" height="9" fill="#000"/>
<rect x="283" y="290" width="1" height="7" fill="#fff"/>
<rect x="287" y="144" width="1" height="11" fill="#000"/>
<rect x="287" y="177" width="1" height="11" fill="#000"/>
<rect x="286" y="155" width="3" height="22" fill="#000"/>
<rect x="287" y="156" width="1" height="20" fill="#fff"/>
<rect x="291" y="134" width="1" height="5" fill="#000"/>
<rect x="291" y="156" width="1" height="24" fill="#000"/>
<rect x="290" y="139" width="3" height="17" fill="#000"/>
<rect x="291" y="140" width="1" height="15" fill="#fff"/>
<rect x="295" y="114" width="1" height="25" fill="#000"/>
<rect x="295" y="161" width="1" height="6" fill="#000"/>
<rect x="294" y="139" width="3" height="22" fill="#000"/>
<rect x="299" y="138" width="1" height="2" fill="#000"/>
<rect x="299" y="161" width="1" height="3" fill="#000"/>
<rect x="298" y="140" width="3" height="21" fill="#000"/>
<rect x="299" y="141" width="1" height="19" fill="#fff"/>
<rect x="303" y="137" width="1" height="1" fill="#000"/>
<rect x="303" y="162" width="1" height="4" fill="#000"/>
<rect x="302" y="138" width="3" height="24" fill="#000"/>
<rect x="307" y="149" width="1" height="11" fill="#000"/>
<rect x="307" y="165" width="1" height="10" fill="#000"/>
<rect x="306" y="160" width="3" height="5" fill="#000"/>
<rect x="311" y="128" width="1" height="8" fill="#000"/>
<rect x="310" y="136" width="3" height="30" fill="#000"/>
<rect x="311" y="137" width="1" height="28" fill="#fff"/>
<rect x="315" y="137" width="1" height="13" fill="#000"/>
<rect x="314" y="122" width="3" height="15" fill="#000"/>
<rect x="315" y="123" width="1" height="13" fill="#fff"/>
<rect x="319" y="109" width="1" height="13" fill="#000"/>
<rect x="319" y="127" width="1" height="4" fill="#000"/>
<rect x="318" y="122" width="3" height="5" fill="#000"/>
<rect x="323" y="186" width="1" height="7" fill="#000"/>
<rect x="322" y="125" width="3" height="61" fill="#000"/>
<rect x="327" y="184" width="1" height="2" fill="#000"/>
<rect x="327" y="203" width="1" height="8" fill="#000"/>
<rect x="326" y="186" width="3" height="17" fill="#000"/>
<rect x="331" y="200" width="1" height="2" fill="#000"/>
<rect x="331" y="215" width="1" height="24" fill="#000"/>
<rect x="330" y="202" width="3" height="13" fill="#000"/>
<rect x="335" y="206" width="1" height="8" fill="#000"/>
<rect x="335" y="241" width="1" height="10" fill="#000"/>
<rect x="334" y="214" width="3" height="27" fill="#000"/>
<rect x="339" y="209" width="1" height="5" fill="#000"/>
<rect x="339" y="242" width="1" height="33" fill="#000"/>
<rect x="338" y="214" width="3" height="28" fill="#000"/>
<rect x="339" y="215" width="1" height="26" fill="#fff"/>
<rect x="343" y="185" width="1" height="1" fill="#000"/>
<rect x="343" y="215" width="1" height="3" fill="#000"/>
<rect x="342" y="186" width="3" height="29" fill="#000"/>
<rect x="343" y="187" width="1" height="27" fill="#fff"/>
<rect x="347" y="159" width="1" height="11" fill="#000"/>
<rect x="347" y="188" width="1" height="3" fill="#000"/>
<rect x="346" y="170" width="3" height="18" fill="#000"/>
<rect x="347" y="171" width="1" height="16" fill="#fff"/>
<rect x="351" y="128" width="1" height="39" fill="#000"/>
<rect x="351" y="171" width="1" height="3" fill="#000"/>
<rect x="350" y="167" width="3" height="4" fill="#000"/>
<rect x="351" y="168" width="1" height="2" fill="#fff"/>
<rect x="355" y="160" width="1" height="7" fill="#000"/>
<rect x="355" y="180" width="1" height="5" fill="#000"/>
<rect x="354" y="167" width="3" height="13" fill="#000"/>
<rect x="359" y="146" width="1" height="2" fill="#000"/>
<rect x="359" y="180" width="1" height="5" fill="#000"/>
<rect x="358" y="148" width="3" height="32" fill="#000"/>
<rect x="359" y="149" width="1" height="30" fill="#fff"/>
<rect x="363" y="135" width="1" height="12" fill="#000"/>
<rect x="363" y="153" width="1" height="4" fill="#000"/>
<rect x="362" y="147" width="3" height="6" fill="#000"/>
<rect x="367" y="160" width="1" height="14" fill="#000"/>
<rect x="366" y="152" width="3" height="8" fill="#000"/>
<rect x="371" y="134" width="1" height="6" fill="#000"/>
<rect x="371" y="159" width="1" height="5" fill="#000"/>
<rect x="370" y="140" width="3" height="19" fill="#000"/>
<rect x="371" y="141" width="1" height="17" fill="#fff"/>
<rect x="375" y="123" width="1" height="17" fill="#000"/>
<rect x="375" y="155" width="1" height="1" fill="#000"/>
<rect x="374" y="140" width="3" height="15" fill="#000"/>
<rect x="379" y="143" width="1" height="10" fill="#000"/>
<rect x="379" y="167" width="1" height="8" fill="#000"/>
<rect x="378" y="153" width="3" height="14" fill="#000"/>
<rect x="383" y="146" width="1" height="6" fill="#000"/>
<rect x="383" y="167" width="1" height="15" fill="#000"/>
<rect x="382" y="152" width="3" height="15" fill="#000"/>
<rect x="383" y="153" width="1" height="13" fill="#fff"/>
<rect x="387" y="128" width="1" height="23" fill="#000"/>
<rect x="387" y="153" width="1" height="11" fill="#000"/>
<rect x="386" y="151" width="3" height="2" fill="#000"/>
<rect x="391" y="139" width="1" height="13" fill="#000"/>
<rect x="391" y="164" width="1" height="9" fill="#000"/>
<rect x="390" y="152" width="3" height="12" fill="#000"/>
<rect x="395" y="134" width="1" height="5" fill="#000"/>
<rect x="394" y="139" width="3" height="25" fill="#000"/>
<rect x="395" y="140" width="1" height="23" fill="#fff"/>
<rect x="399" y="115" width="1" height="23" fill="#000"/>
<rect x="399" y="145" width="1" height="16" fill="#000"/>
<rect x="398" y="138" width="3" height="7" fill="#000"/>
<rect x="403" y="145" width="1" height="10" fill="#000"/>
<rect x="402" y="134" width="3" height="11" fill="#000"/>
<rect x="403" y="135" width="1" height="9" fill="#fff"/>
<rect x="407" y="121" width="1" height="14" fill="#000"/>
<rect x="407" y="144" width="1" height="1" fill="#000"/>
<rect x="406" y="135" width="3" height="9" fill="#000"/>
<rect x="411" y="118" width="1" height="4" fill="#000"/>
<rect x="411" y="144" width="1" height="11" fill="#000"/>
<rect x="410" y="122" width="3" height="22" fill="#000"/>
<rect x="411" y="123" width="1" height="20" fill="#fff"/>
<rect x="415" y="100" width="1" height="22" fill="#000"/>
<rect x="415" y="136" width="1" height="3" fill="#000"/>
<rect x="414" y="122" width="3" height="14" fill="#000"/>
<rect x="419" y="120" width="1" height="8" fill="#000"/>
<rect x="419" y="136" width="1" height="9" fill="#000"/>
<rect x="418" y="128" width="3" height="8" fill="#000"/>
<rect x="419" y="129" width="1" height="6" fill="#fff"/>
<rect x="423" y="124" width="1" height="7" fill="#000"/>
<rect x="423" y="145" width="1" height="7" fill="#000"/>
<rect x="422" y="131" width="3" height="14" fill="#000"/>
<rect x="427" y="76" width="1" height="8" fill="#000"/>
<rect x="426" y="84" width="3" height="61" fill="#000"/>
<rect x="427" y="85" width="1" height="59" fill="#fff"/>
<rect x="431" y="48" width="1" height="1" fill="#000"/>
<rect x="430" y="49" width="3" height="36" fill="#000"/>
<rect x="431" y="50" width="1" height="34" fill="#fff"/>
<rect x="435" y="36" width="1" height="13" fill="#000"/>
<rect x="435" y="51" width="1" height="9" fill="#000"/>
<rect x="434" y="49" width="3" height="2" fill="#000"/>
<rect x="439" y="26" width="1" height="2" fill="#000"/>
<rect x="439" y="50" width="1" height="14" fill="#000"/>
<rect x="438" y="28" width="3" height="22" fill="#000"/>
<rect x="439" y="29" width="1" height="20" fill="#fff"/>
<rect x="443" y="20" width="1" height="3" fill="#000"/>
<rect x="443" y="28" width="1" height="12" fill="#000"/>
<rect x="442" y="23" width="3" height="5" fill="#000"/>
<rect x="443" y="24" width="1" height="3" fill="#fff"/>
<rect x="447" y="22" width="1" height="3" fill="#000"/>
<rect x="447" y="49" width="1" height="3" fill="#000"/>
<rect x="446" y="25" width="3" height="24" fill="#000"/>
<rect x="451" y="34" width="1" height="8" fill="#000"/>
<rect x="451" y="49" width="1" height="10" fill="#000"/>
<rect x="450" y="42" width="3" height="7" fill="#000"/>
<rect x="451" y="43" width="1" height="5" fill="#fff"/>
<rect x="454" y="42" width="3" height="20" fill="#000"/>
<rect x="459" y="37" width="1" height="18" fill="#000"/>
<rect x="459" y="62" width="1" height="11" fill="#000"/>
<rect x="458" y="55" width="3" height="7" fill="#000"/>
<rect x="459" y="56" width="1" height="5" fill="#fff"/>
<rect x="463" y="53" width="1" height="2" fill="#000"/>
<rect x="463" y="89" width="1" height="14" fill="#000"/>
<rect x="462" y="55" width="3" height="34" fill="#000"/>
<rect x="467" y="87" width="1" height="1" fill="#000"/>
<rect x="467" y="103" width="1" height="4" fill="#000"/>
<rect x="466" y="88" width="3" height="15" fill="#000"/>
<rect x="471" y="80" width="1" height="1" fill="#000"/>
<rect x="471" y="95" width="1" height="23" fill="#000"/>
<rect x="470" y="81" width="3" height="14" fill="#000"/>
<rect x="475" y="66" width="1" height="8" fill="#000"/>
<rect x="474" y="74" width="3" height="21" fill="#000"/>
<rect x="475" y="75" width="1" height="19" fill="#fff"/>
<rect x="479" y="75" width="1" height="13" fill="#000"/>
<rect x="478" y="48" width="3" height="27" fill="#000"/>
<rect x="479" y="49" width="1" height="25" fill="#fff"/>
<rect x="483" y="63" width="1" height="10" fill="#000"/>
<rect x="482" y="48" width="3" height="15" fill="#000"/>
<rect x="487" y="60" width="1" height="1" fill="#000"/>
<rect x="487" y="73" width="1" height="9" fill="#000"/>
<rect x="486" y="61" width="3" height="12" fill="#000"/>
<rect x="491" y="52" width="1" height="13" fill="#000"/>
<rect x="491" y="73" width="1" height="2" fill="#000"/>
<rect x="490" y="65" width="3" height="8" fill="#000"/>
<rect x="491" y="66" width="1" height="6" fill="#fff"/>
<rect x="495" y="83" width="1" height="2" fill="#000"/>
<rect x="494" y="58" width="3" height="25" fill="#000"/>
<rect x="499" y="68" width="1" height="13" fill="#000"/>
<rect x="499" y="84" width="1" height="10" fill="#000"/>
<rect x="498" y="81" width="3" height="3" fill="#000"/>
<rect x="503" y="57" width="1" height="15" fill="#000"/>
<rect x="503" y="84" width="1" height="9" fill="#000"/>
<rect x="502" y="72" width="3" height="12" fill="#000"/>
<rect x="503" y="73" width="1" height="10" fill="#fff"/>
<rect x="507" y="71" width="1" height="1" fill="#000"/>
<rect x="507" y="98" width="1" height="14" fill="#000"/>
<rect x="506" y="72" width="3" height="26" fill="#000"/>
<rect x="511" y="61" width="1" height="8" fill="#000"/>
<rect x="511" y="98" width="1" height="8" fill="#000"/>
<rect x="510" y="69" width="3" height="29" fill="#000"/>
<rect x="511" y="70" width="1" height="27" fill="#fff"/>
<rect x="515" y="62" width="1" height="3" fill="#000"/>
<rect x="515" y="70" width="1" height="14" fill="#000"/>
<rect x="514" y="65" width="3" height="5" fill="#000"/>
<rect x="515" y="66" width="1" height="3" fill="#fff"/>
<rect x="519" y="44" width="1" height="14" fill="#000"/>
<rect x="519" y="66" width="1" height="9" fill="#000"/>
<rect x="518" y="58" width="3" height="8" fill="#000"/>
<rect x="519" y="59" width="1" height="6" fill="#fff"/>
<rect x="523" y="77" width="1" height="8" fill="#000"/>
<rect x="522" y="58" width="3" height="19" fill="#000"/>
<rect x="527" y="60" width="1" height="15" fill="#000"/>
<rect x="527" y="96" width="1" height="9" fill="#000"/>
<rect x="526" y="75" width="3" height="21" fill="#000"/>
<rect x="531" y="71" width="1" height="18" fill="#000"/>
<rect x="531" y="96" width="1" height="3" fill="#000"/>
<rect x="530" y="89" width="3" height="7" fill="#000"/>
<rect x="531" y="90" width="1" height="5" fill="#fff"/>
<rect x="535" y="64" width="1" height="13" fill="#000"/>
<rect x="535" y="89" width="1" height="1" fill="#000"/>
<rect x="534" y="77" width="3" height="12" fill="#000"/>
<rect x="535" y="78" width="1" height="10" fill="#fff"/>
<rect x="539" y="50" width="1" height="4" fill="#000"/>
<rect x="539" y="77" width="1" height="1" fill="#000"/>
<rect x="538" y="54" width="3" height="23" fill="#000"/>
<rect x="539" y="55" width="1" height="21" fill="#fff"/>
<rect x="543" y="49" width="1" height="6" fill="#000"/>
<rect x="543" y="90" width="1" height="14" fill="#000"/>
<rect x="542" y="55" width="3" height="35" fill="#000"/>
<rect x="547" y="88" width="1" height="1" fill="#000"/>
<rect x="547" y="137" width="1" height="16" fill="#000"/>
<rect x="546" y="89" width="3" height="48" fill="#000"/>
<rect x="551" y="109" width="1" height="9" fill="#000"/>
<rect x="551" y="137" width="1" height="6" fill="#000"/>
<rect x="550" y="118" width="3" height="19" fill="#000"/>
<rect x="551" y="119" width="1" height="17" fill="#fff"/>
<rect x="555" y="87" width="1" height="12" fill="#000"/>
<rect x="555" y="119" width="1" height="14" fill="#000"/>
<rect x="554" y="99" width="3" height="20" fill="#000"/>
<rect x="555" y="100" width="1" height="18" fill="#fff"/>
<rect x="559" y="82" width="1" height="5" fill="#000"/>
<rect x="559" y="99" width="1" height="15" fill="#000"/>
<rect x="558" y="87" width="3" height="12" fill="#000"/>
<rect x="559" y="88" width="1" height="10" fill="#fff"/>
<rect x="563" y="74" width="1" height="12" fill="#000"/>
<rect x="563" y="88" width="1" height="11" fill="#000"/>
<rect x="562" y="86" width="3" height="2" fill="#000"/>
<rect x="567" y="78" width="1" height="9" fill="#000"/>
<rect x="567" y="89" width="1" height="18" fill="#000"/>
<rect x="566" y="87" width="3" height="2" fill="#000"/>
<rect x="571" y="71" width="1" height="16" fill="#000"/>
<rect x="571" y="119" width="1" height="14" fill="#000"/>
<rect x="570" y="87" width="3" height="32" fill="#000"/>
<rect x="575" y="108" width="1" height="10" fill="#000"/>
<rect x="575" y="143" width="1" height="5" fill="#000"/>
<rect x="574" y="118" width="3" height="25" fill="#000"/>
<rect x="579" y="121" width="1" height="7" fill="#000"/>
<rect x="579" y="143" width="1" height="13" fill="#000"/>
<rect x="578" y="128" width="3" height="15" fill="#000"/>
<rect x="579" y="129" width="1" height="13" fill="#fff"/>
<rect x="583" y="127" width="1" height="1" fill="#000"/>
<rect x="583" y="140" width="1" height="22" fill="#000"/>
<rect x="582" y="128" width="3" height="12" fill="#000"/>
<rect x="587" y="123" width="1" height="8" fill="#000"/>
<rect x="587" y="140" width="1" height="1" fill="#000"/>
<rect x="586" y="131" width="3" height="9" fill="#000"/>
<rect x="587" y="132" width="1" height="7" fill="#fff"/>
<rect x="591" y="117" width="1" height="3" fill="#000"/>
<rect x="591" y="136" width="1" height="19" fill="#000"/>
<rect x="590" y="120" width="3" height="16" fill="#000"/>
<rect x="591" y="121" width="1" height="14" fill="#fff"/>
<rect x="595" y="116" width="1" height="4" fill="#000"/>
<rect x="595" y="133" width="1" height="2" fill="#000"/>
<rect x="594" y="120" width="3" height="13" fill="#000"/>
<rect x="599" y="123" width="1" height="3" fill="#000"/>
<rect x="599" y="133" width="1" height="2" fill="#000"/>
<rect x="598" y="126" width="3" height="7" fill="#000"/>
<rect x="599" y="127" width="1" height="5" fill="#fff"/>
</g>
<g clip-path="url(#cd)">
<line x1="35.5" y1="344" x2="35.5" y2="534" stroke="#c0c0c0" stroke-width="1" stroke-dasharray="3 3" stroke-dashoffset="0"/>
<line x1="67.5" y1="344" x2="67.5" y2="534" stroke="#c0c0c0" stroke-width="1" stroke-dasharray="3 3" stroke-dashoffset="0"/>
<line x1="99.5" y1="344" x2="99.5" y2="534" stroke="#c0c0c0" stroke-width="1" stroke-dasharray="3 3" stroke-dashoffset="0"/>
<line x1="131.5" y1="344" x2="131.5" y2="534" stroke="#c0c0c0" stroke-width="1" stroke-dasharray="3 3" stroke-dashoffset="0"/>
<line x1="163.5" y1="344" x2="163.5" y2="534" stroke="#c0c0c0" stroke-width="1" stroke-dasharray="3 3" stroke-dashoffset="0"/>
<line x1="195.5" y1="344" x2="195.5" y2="534" stroke="#c0c0c0" stroke-width="1" stroke-dasharray="3 3" stroke-dashoffset="0"/>
<line x1="227.5" y1="344" x2="227.5" y2="534" stroke="#c0c0c0" stroke-width="1" stroke-dasharray="3 3" stroke-dashoffset="0"/>
<line x1="259.5" y1="344" x2="259.5" y2="534" stroke="#c0c0c0" stroke-width="1" stroke-dasharray="3 3" stroke-dashoffset="0"/>
<line x1="291.5" y1="344" x2="291.5" y2="534" stroke="#c0c0c0" stroke-width="1" stroke-dasharray="3 3" stroke-dashoffset="0"/>
<line x1="323.5" y1="344" x2="323.5" y2="534" stroke="#c0c0c0" stroke-width="1" stroke-dasharray="3 3" stroke-dashoffset="0"/>
<line x1="355.5" y1="344" x2="355.5" y2="534" stroke="#c0c0c0" stroke-width="1" stroke-dasharray="3 3" stroke-dashoffset="0"/>
<line x1="387.5" y1="344" x2="387.5" y2="534" stroke="#c0c0c0" stroke-width="1" stroke-dasharray="3 3" stroke-dashoffset="0"/>
<line x1="419.5" y1="344" x2="419.5" y2="534" stroke="#c0c0c0" stroke-width="1" stroke-dasharray="3 3" stroke-dashoffset="0"/>
<line x1="451.5" y1="344" x2="451.5" y2="534" stroke="#c0c0c0" stroke-width="1" stroke-dasharray="3 3" stroke-dashoffset="0"/>
<line x1="483.5" y1="344" x2="483.5" y2="534" stroke="#c0c0c0" stroke-width="1" stroke-dasharray="3 3" stroke-dashoffset="0"/>
<line x1="515.5" y1="344" x2="515.5" y2="534" stroke="#c0c0c0" stroke-width="1" stroke-dasharray="3 3" stroke-dashoffset="0"/>
<line x1="547.5" y1="344" x2="547.5" y2="534" stroke="#c0c0c0" stroke-width="1" stroke-dasharray="3 3" stroke-dashoffset="0"/>
<line x1="579.5" y1="344" x2="579.5" y2="534" stroke="#c0c0c0" stroke-width="1" stroke-dasharray="3 3" stroke-dashoffset="0"/>
<line x1="611.5" y1="344" x2="611.5" y2="534" stroke="#c0c0c0" stroke-width="1" stroke-dasharray="3 3" stroke-dashoffset="0"/>
<line x1="643.5" y1="344" x2="643.5" y2="534" stroke="#c0c0c0" stroke-width="1" stroke-dasharray="3 3" stroke-dashoffset="0"/>
<line x1="4" y1="432.5" x2="672" y2="432.5" stroke="#c0c0c0" stroke-width="1" stroke-dasharray="3 3" stroke-dashoffset="0"/>
<rect x="3" y="384" width="1" height="48" fill="#c0c0c0"/>
<rect x="7" y="376" width="1" height="56" fill="#c0c0c0"/>
<rect x="11" y="375" width="1" height="57" fill="#c0c0c0"/>
<rect x="15" y="376" width="1" height="56" fill="#c0c0c0"/>
<rect x="19" y="378" width="1" height="54" fill="#c0c0c0"/>
<rect x="23" y="380" width="1" height="52" fill="#c0c0c0"/>
<rect x="27" y="382" width="1" height="50" fill="#c0c0c0"/>
<rect x="31" y="387" width="1" height="45" fill="#c0c0c0"/>
<rect x="35" y="392" width="1" height="40" fill="#c0c0c0"/>
<rect x="39" y="397" width="1" height="35" fill="#c0c0c0"/>
<rect x="43" y="399" width="1" height="33" fill="#c0c0c0"/>
<rect x="47" y="401" width="1" height="31" fill="#c0c0c0"/>
<rect x="51" y="405" width="1" height="27" fill="#c0c0c0"/>
<rect x="55" y="399" width="1" height="33" fill="#c0c0c0"/>
<rect x="59" y="398" width="1" height="34" fill="#c0c0c0"/>
<rect x="63" y="399" width="1" height="33" fill="#c0c0c0"/>
<rect x="67" y="402" width="1" height="30" fill="#c0c0c0"/>
<rect x="71" y="407" width="1" height="25" fill="#c0c0c0"/>
<rect x="75" y="409" width="1" height="23" fill="#c0c0c0"/>
<rect x="79" y="410" width="1" height="22" fill="#c0c0c0"/>
<rect x="83" y="410" width="1" height="22" fill="#c0c0c0"/>
<rect x="87" y="413" width="1" height="19" fill="#c0c0c0"/>
<rect x="91" y="415" width="1" height="17" fill="#c0c0c0"/>
<rect x="95" y="417" width="1" height="15" fill="#c0c0c0"/>
<rect x="99" y="419" width="1" height="13" fill="#c0c0c0"/>
<rect x="103" y="423" width="1" height="9" fill="#c0c0c0"/>
<rect x="107" y="424" width="1" height="8" fill="#c0c0c0"/>
<rect x="123" y="433" width="1" height="10" fill="#c0c0c0"/>
<rect x="127" y="433" width="1" height="14" fill="#c0c0c0"/>
<rect x="131" y="433" width="1" height="16" fill="#c0c0c0"/>
<rect x="135" y="433" width="1" height="29" fill="#c0c0c0"/>
<rect x="139" y="433" width="1" height="30" fill="#c0c0c0"/>
<rect x="143" y="433" width="1" height="31" fill="#c0c0c0"/>
<rect x="147" y="433" width="1" height="31" fill="#c0c0c0"/>
<rect x="151" y="433" width="1" height="32" fill="#c0c0c0"/>
<rect x="155" y="433" width="1" height="32" fill="#c0c0c0"/>
<rect x="159" y="433" width="1" height="39" fill="#c0c0c0"/>
<rect x="163" y="433" width="1" height="52" fill="#c0c0c0"/>
<rect x="167" y="433" width="1" height="53" fill="#c0c0c0"/>
<rect x="171" y="433" width="1" height="57" fill="#c0c0c0"/>
<rect x="175" y="433" width="1" height="62" fill="#c0c0c0"/>
<rect x="179" y="433" width="1" height="68" fill="#c0c0c0"/>
<rect x="183" y="433" width="1" height="74" fill="#c0c0c0"/>
<rect x="187" y="433" width="1" height="76" fill="#c0c0c0"/>
<rect x="191" y="433" width="1" height="77" fill="#c0c0c0"/>
<rect x="195" y="433" width="1" height="82" fill="#c0c0c0"/>
<rect x="199" y="433" width="1" height="87" fill="#c0c0c0"/>
<rect x="203" y="433" width="1" height="89" fill="#c0c0c0"/>
<rect x="207" y="433" width="1" height="91" fill="#c0c0c0"/>
<rect x="211" y="433" width="1" height="89" fill="#c0c0c0"/>
<rect x="215" y="433" width="1" height="87" fill="#c0c0c0"/>
<rect x="219" y="433" width="1" height="86" fill="#c0c0c0"/>
<rect x="223" y="433" width="1" height="83" fill="#c0c0c0"/>
<rect x="227" y="433" width="1" height="82" fill="#c0c0c0"/>
<rect x="231" y="433" width="1" height="79" fill="#c0c0c0"/>
<rect x="235" y="433" width="1" height="77" fill="#c0c0c0"/>
<rect x="239" y="433" width="1" height="72" fill="#c0c0c0"/>
<rect x="243" y="433" width="1" height="67" fill="#c0c0c0"/>
<rect x="247" y="433" width="1" height="62" fill="#c0c0c0"/>
<rect x="251" y="433" width="1" height="58" fill="#c0c0c0"/>
<rect x="255" y="433" width="1" height="55" fill="#c0c0c0"/>
<rect x="259" y="433" width="1" height="50" fill="#c0c0c0"/>
<rect x="263" y="433" width="1" height="44" fill="#c0c0c0"/>
<rect x="267" y="433" width="1" height="34" fill="#c0c0c0"/>
<rect x="271" y="433" width="1" height="31" fill="#c0c0c0"/>
<rect x="275" y="433" width="1" height="30" fill="#c0c0c0"/>
<rect x="279" y="433" width="1" height="27" fill="#c0c0c0"/>
<rect x="283" y="433" width="1" height="26" fill="#c0c0c0"/>
<rect x="287" y="433" width="1" height="1" fill="#c0c0c0"/>
<rect x="291" y="415" width="1" height="17" fill="#c0c0c0"/>
<rect x="295" y="402" width="1" height="30" fill="#c0c0c0"/>
<rect x="299" y="388" width="1" height="44" fill="#c0c0c0"/>
<rect x="303" y="382" width="1" height="50" fill="#c0c0c0"/>
<rect x="307" y="378" width="1" height="54" fill="#c0c0c0"/>
<rect x="311" y="371" width="1" height="61" fill="#c0c0c0"/>
<rect x="315" y="364" width="1" height="68" fill="#c0c0c0"/>
<rect x="319" y="360" width="1" height="72" fill="#c0c0c0"/>
<rect x="323" y="367" width="1" height="65" fill="#c0c0c0"/>
<rect x="327" y="377" width="1" height="55" fill="#c0c0c0"/>
<rect x="331" y="386" width="1" height="46" fill="#c0c0c0"/>
<rect x="335" y="398" width="1" height="34" fill="#c0c0c0"/>
<rect x="339" y="404" width="1" height="28" fill="#c0c0c0"/>
<rect x="343" y="405" width="1" height="27" fill="#c0c0c0"/>
<rect x="347" y="403" width="1" height="29" fill="#c0c0c0"/>
<rect x="351" y="401" width="1" height="31" fill="#c0c0c0"/>
<rect x="355" y="399" width="1" height="33" fill="#c0c0c0"/>
<rect x="359" y="397" width="1" height="35" fill="#c0c0c0"/>
<rect x="363" y="396" width="1" height="36" fill="#c0c0c0"/>
<rect x="367" y="394" width="1" height="38" fill="#c0c0c0"/>
<rect x="371" y="394" width="1" height="38" fill="#c0c0c0"/>
<rect x="375" y="395" width="1" height="37" fill="#c0c0c0"/>
<rect x="379" y="397" width="1" height="35" fill="#c0c0c0"/>
<rect x="383" y="398" width="1" height="34" fill="#c0c0c0"/>
<rect x="387" y="399" width="1" height="33" fill="#c0c0c0"/>
<rect x="391" y="401" width="1" height="31" fill="#c0c0c0"/>
<rect x="395" y="399" width="1" height="33" fill="#c0c0c0"/>
<rect x="399" y="400" width="1" height="32" fill="#c0c0c0"/>
<rect x="403" y="401" width="1" height="31" fill="#c0c0c0"/>
<rect x="407" y="401" width="1" height="31" fill="#c0c0c0"/>
<rect x="411" y="401" width="1" height="31" fill="#c0c0c0"/>
<rect x="415" y="401" width="1" height="31" fill="#c0c0c0"/>
<rect x="419" y="401" width="1" height="31" fill="#c0c0c0"/>
<rect x="423" y="402" width="1" height="30" fill="#c0c0c0"/>
<rect x="427" y="393" width="1" height="39" fill="#c0c0c0"/>
<rect x="431" y="383" width="1" height="49" fill="#c0c0c0"/>
<rect x="435" y="375" width="1" height="57" fill="#c0c0c0"/>
<rect x="439" y="366" width="1" height="66" fill="#c0c0c0"/>
<rect x="443" y="360" width="1" height="72" fill="#c0c0c0"/>
<rect x="447" y="359" width="1" height="73" fill="#c0c0c0"/>
<rect x="451" y="357" width="1" height="75" fill="#c0c0c0"/>
<rect x="455" y="361" width="1" height="71" fill="#c0c0c0"/>
<rect x="459" y="364" width="1" height="68" fill="#c0c0c0"/>
<rect x="463" y="372" width="1" height="60" fill="#c0c0c0"/>
<rect x="467" y="381" width="1" height="51" fill="#c0c0c0"/>
<rect x="471" y="388" width="1" height="44" fill="#c0c0c0"/>
<rect x="475" y="390" width="1" height="42" fill="#c0c0c0"/>
<rect x="479" y="389" width="1" height="43" fill="#c0c0c0"/>
<rect x="483" y="390" width="1" height="42" fill="#c0c0c0"/>
<rect x="487" y="393" width="1" height="39" fill="#c0c0c0"/>
<rect x="491" y="395" width="1" height="37" fill="#c0c0c0"/>
<rect x="495" y="399" width="1" height="33" fill="#c0c0c0"/>
<rect x="499" y="404" width="1" height="28" fill="#c0c0c0"/>
<rect x="503" y="405" width="1" height="27" fill="#c0c0c0"/>
<rect x="507" y="410" width="1" height="22" fill="#c0c0c0"/>
<rect x="511" y="410" width="1" height="22" fill="#c0c0c0"/>
<rect x="515" y="410" width="1" height="22" fill="#c0c0c0"/>
<rect x="519" y="413" width="1" height="19" fill="#c0c0c0"/>
<rect x="523" y="418" width="1" height="14" fill="#c0c0c0"/>
<rect x="527" y="420" width="1" height="12" fill="#c0c0c0"/>
<rect x="531" y="421" width="1" height="11" fill="#c0c0c0"/>
<rect x="535" y="420" width="1" height="12" fill="#c0c0c0"/>
<rect x="539" y="417" width="1" height="15" fill="#c0c0c0"/>
<rect x="543" y="424" width="1" height="8" fill="#c0c0c0"/>
<rect x="551" y="433" width="1" height="4" fill="#c0c0c0"/>
<rect x="555" y="433" width="1" height="4" fill="#c0c0c0"/>
<rect x="559" y="433" width="1" height="1" fill="#c0c0c0"/>
<rect x="563" y="433" width="1" height="3" fill="#c0c0c0"/>
<rect x="571" y="433" width="1" height="5" fill="#c0c0c0"/>
<rect x="575" y="433" width="1" height="13" fill="#c0c0c0"/>
<rect x="579" y="433" width="1" height="14" fill="#c0c0c0"/>
<rect x="583" y="433" width="1" height="20" fill="#c0c0c0"/>
<rect x="587" y="433" width="1" height="21" fill="#c0c0c0"/>
<rect x="591" y="433" width="1" height="21" fill="#c0c0c0"/>
<rect x="595" y="433" width="1" height="21" fill="#c0c0c0"/>
<rect x="599" y="433" width="1" height="22" fill="#c0c0c0"/>
<polyline points="-0.5,407.8 3.5,402.6 7.5,397.8 11.5,393.4 15.5,389.5 19.5,385.9 23.5,382.9 27.5,380.9 31.5,380.2 35.5,380.7 39.5,381.7 43.5,384.3 47.5,387.7 51.5,390.6 55.5,393.3 59.5,395.6 63.5,397.5 67.5,399.3 71.5,400.9 75.5,402.2 79.5,403.2 83.5,404.1 87.5,405.2 91.5,406.7 95.5,408.6 99.5,410.6 103.5,412.6 107.5,414.7 111.5,417.1 115.5,419.8 119.5,422.8 123.5,426.2 127.5,430.3 131.5,435.0 135.5,439.4 139.5,443.4 143.5,447.3 147.5,451.2 151.5,454.8 155.5,458.0 159.5,461.1 163.5,464.2 167.5,467.3 171.5,470.5 175.5,473.9 179.5,477.7 183.5,481.7 187.5,486.0 191.5,490.6 195.5,495.5 199.5,500.3 203.5,504.7 207.5,509.1 211.5,512.6 215.5,515.3 219.5,517.7 223.5,519.2 227.5,519.6 231.5,519.8 235.5,519.8 239.5,518.0 243.5,515.1 247.5,512.1 251.5,508.4 255.5,504.5 259.5,500.8 263.5,497.0 267.5,493.0 271.5,488.7 275.5,484.2 279.5,479.4 283.5,473.9 287.5,467.4 291.5,459.1 295.5,450.3 299.5,440.8 303.5,431.3 307.5,421.9 311.5,411.4 315.5,397.9 319.5,386.2 323.5,380.0 327.5,376.7 331.5,374.8 335.5,375.1 339.5,376.5 343.5,378.7 347.5,382.1 351.5,386.4 355.5,392.5 359.5,396.0 363.5,398.0 367.5,398.4 371.5,398.6 375.5,398.7 379.5,397.7 383.5,396.3 387.5,395.7 391.5,395.8 395.5,396.0 399.5,396.2 403.5,396.9 407.5,397.6 411.5,397.7 415.5,397.7 419.5,397.7 423.5,397.7 427.5,397.6 431.5,396.2 435.5,393.9 439.5,390.5 443.5,386.0 447.5,381.3 451.5,376.7 455.5,372.0 459.5,368.5 463.5,365.7 467.5,364.9 471.5,366.4 475.5,368.7 479.5,371.8 483.5,375.5 487.5,379.5 491.5,383.8 495.5,387.8 499.5,391.3 503.5,394.5 507.5,397.5 511.5,400.2 515.5,402.5 519.5,404.4 523.5,406.3 527.5,408.5 531.5,411.1 535.5,413.2 539.5,414.4 543.5,415.2 547.5,417.0 551.5,420.2 555.5,423.4 559.5,425.6 563.5,427.5 567.5,429.3 571.5,431.5 575.5,434.9 579.5,438.8 583.5,441.5 587.5,443.4 591.5,445.2 595.5,447.2 599.5,449.1" fill="none" stroke="#ff0000" stroke-width="2" stroke-linejoin="round" shape-rendering="crispEdges"/>
</g>
<g clip-path="url(#cs)">
<line x1="35.5" y1="536" x2="35.5" y2="711" stroke="#c0c0c0" stroke-width="1" stroke-dasharray="3 3" stroke-dashoffset="0"/>
<line x1="67.5" y1="536" x2="67.5" y2="711" stroke="#c0c0c0" stroke-width="1" stroke-dasharray="3 3" stroke-dashoffset="0"/>
<line x1="99.5" y1="536" x2="99.5" y2="711" stroke="#c0c0c0" stroke-width="1" stroke-dasharray="3 3" stroke-dashoffset="0"/>
<line x1="131.5" y1="536" x2="131.5" y2="711" stroke="#c0c0c0" stroke-width="1" stroke-dasharray="3 3" stroke-dashoffset="0"/>
<line x1="163.5" y1="536" x2="163.5" y2="711" stroke="#c0c0c0" stroke-width="1" stroke-dasharray="3 3" stroke-dashoffset="0"/>
<line x1="195.5" y1="536" x2="195.5" y2="711" stroke="#c0c0c0" stroke-width="1" stroke-dasharray="3 3" stroke-dashoffset="0"/>
<line x1="227.5" y1="536" x2="227.5" y2="711" stroke="#c0c0c0" stroke-width="1" stroke-dasharray="3 3" stroke-dashoffset="0"/>
<line x1="259.5" y1="536" x2="259.5" y2="711" stroke="#c0c0c0" stroke-width="1" stroke-dasharray="3 3" stroke-dashoffset="0"/>
<line x1="291.5" y1="536" x2="291.5" y2="711" stroke="#c0c0c0" stroke-width="1" stroke-dasharray="3 3" stroke-dashoffset="0"/>
<line x1="323.5" y1="536" x2="323.5" y2="711" stroke="#c0c0c0" stroke-width="1" stroke-dasharray="3 3" stroke-dashoffset="0"/>
<line x1="355.5" y1="536" x2="355.5" y2="711" stroke="#c0c0c0" stroke-width="1" stroke-dasharray="3 3" stroke-dashoffset="0"/>
<line x1="387.5" y1="536" x2="387.5" y2="711" stroke="#c0c0c0" stroke-width="1" stroke-dasharray="3 3" stroke-dashoffset="0"/>
<line x1="419.5" y1="536" x2="419.5" y2="711" stroke="#c0c0c0" stroke-width="1" stroke-dasharray="3 3" stroke-dashoffset="0"/>
<line x1="451.5" y1="536" x2="451.5" y2="711" stroke="#c0c0c0" stroke-width="1" stroke-dasharray="3 3" stroke-dashoffset="0"/>
<line x1="483.5" y1="536" x2="483.5" y2="711" stroke="#c0c0c0" stroke-width="1" stroke-dasharray="3 3" stroke-dashoffset="0"/>
<line x1="515.5" y1="536" x2="515.5" y2="711" stroke="#c0c0c0" stroke-width="1" stroke-dasharray="3 3" stroke-dashoffset="0"/>
<line x1="547.5" y1="536" x2="547.5" y2="711" stroke="#c0c0c0" stroke-width="1" stroke-dasharray="3 3" stroke-dashoffset="0"/>
<line x1="579.5" y1="536" x2="579.5" y2="711" stroke="#c0c0c0" stroke-width="1" stroke-dasharray="3 3" stroke-dashoffset="0"/>
<line x1="611.5" y1="536" x2="611.5" y2="711" stroke="#c0c0c0" stroke-width="1" stroke-dasharray="3 3" stroke-dashoffset="0"/>
<line x1="643.5" y1="536" x2="643.5" y2="711" stroke="#c0c0c0" stroke-width="1" stroke-dasharray="3 3" stroke-dashoffset="0"/>
<line x1="4" y1="572.5" x2="672" y2="572.5" stroke="#c0c0c0" stroke-width="1" stroke-dasharray="3 3" stroke-dashoffset="0"/>
<line x1="4" y1="676.5" x2="672" y2="676.5" stroke="#c0c0c0" stroke-width="1" stroke-dasharray="3 3" stroke-dashoffset="0"/>
<line x1="4" y1="710.5" x2="672" y2="710.5" stroke="#c0c0c0" stroke-width="1" stroke-dasharray="3 3" stroke-dashoffset="0"/>
<polyline points="3.5,551.5 7.5,548.0 11.5,550.0 15.5,555.5 19.5,566.0 23.5,578.5 27.5,589.0 31.5,602.4 35.5,622.1 39.5,649.6 43.5,658.4 47.5,658.0 51.5,650.4 55.5,638.7 59.5,623.0 63.5,602.9 67.5,600.5 71.5,609.7 75.5,626.2 79.5,631.8 83.5,631.4 87.5,625.0 91.5,626.6 95.5,629.5 99.5,643.2 103.5,650.4 107.5,658.9 111.5,662.5 115.5,669.2 119.5,674.0 123.5,676.4 127.5,676.6 131.5,679.8 135.5,685.4 139.5,689.9 143.5,686.7 147.5,675.8 151.5,666.5 155.5,662.1 159.5,665.3 163.5,672.5 167.5,683.0 171.5,691.1 175.5,695.5 179.5,695.9 183.5,696.3 187.5,694.7 191.5,692.1 195.5,690.1 199.5,692.1 203.5,697.1 207.5,700.4 211.5,697.6 215.5,689.5 219.5,680.2 223.5,675.4 227.5,671.8 231.5,667.3 235.5,660.7 239.5,656.5 243.5,654.0 247.5,646.5 251.5,632.7 255.5,614.9 259.5,596.6 263.5,587.7 267.5,584.1 271.5,590.4 275.5,592.5 279.5,602.5 283.5,610.1 287.5,607.9 291.5,587.2 295.5,566.2 299.5,558.0 303.5,563.4 307.5,569.2 311.5,572.3 315.5,568.5 319.5,561.3 323.5,561.4 327.5,572.4 331.5,595.4 335.5,619.0 339.5,639.5 343.5,650.4 347.5,644.7 351.5,628.6 355.5,612.1 359.5,602.5 363.5,596.4 367.5,589.2 371.5,582.3 375.5,576.8 379.5,573.6 383.5,574.2 387.5,575.3 391.5,577.7 395.5,580.3 399.5,589.2 403.5,594.0 407.5,599.7 411.5,594.0 415.5,593.6 419.5,589.6 423.5,598.8 427.5,596.0 431.5,585.9 435.5,563.8 439.5,550.5 443.5,545.5 447.5,547.1 451.5,551.1 455.5,560.6 459.5,569.8 463.5,586.4 467.5,602.9 471.5,621.4 475.5,628.6 479.5,625.4 483.5,615.7 487.5,610.1 491.5,613.3 495.5,621.8 499.5,629.5 503.5,633.1 507.5,635.9 511.5,633.1 515.5,627.4 519.5,607.7 523.5,596.4 527.5,596.8 531.5,619.0 535.5,637.5 539.5,635.5 543.5,623.8 547.5,619.8 551.5,638.3 555.5,653.2 559.5,652.0 563.5,634.3 567.5,618.0 571.5,617.2 575.5,630.5 579.5,652.8 583.5,669.7 587.5,674.6 591.5,670.5 595.5,662.5 599.5,655.6" fill="none" stroke="#ff0000" stroke-width="1" stroke-dasharray="3 3" shape-rendering="crispEdges"/>
<polyline points="3.5,547.0 7.5,543.8 11.5,561.0 15.5,573.0 19.5,587.0 23.5,590.4 27.5,589.0 31.5,627.8 35.5,649.6 39.5,671.3 43.5,654.4 47.5,648.4 51.5,648.4 55.5,619.4 59.5,601.3 63.5,588.0 67.5,612.1 71.5,629.0 75.5,637.5 79.5,629.0 83.5,627.8 87.5,618.2 91.5,633.9 95.5,636.3 99.5,659.3 103.5,655.6 107.5,661.7 111.5,670.1 115.5,675.7 119.5,676.2 123.5,677.4 127.5,676.2 131.5,685.8 135.5,694.3 139.5,689.5 143.5,676.2 147.5,661.7 151.5,661.7 155.5,662.9 159.5,671.3 163.5,683.4 167.5,694.3 171.5,695.5 175.5,696.7 179.5,695.5 183.5,696.7 187.5,691.9 191.5,687.8 195.5,690.7 199.5,697.9 203.5,702.8 207.5,700.4 211.5,689.5 215.5,678.6 219.5,672.6 223.5,675.0 227.5,667.7 231.5,659.3 235.5,655.2 239.5,654.9 243.5,652.0 247.5,632.7 251.5,613.3 255.5,598.8 259.5,577.6 263.5,586.8 267.5,588.0 271.5,596.3 275.5,593.2 279.5,618.0 283.5,619.2 287.5,586.4 291.5,556.1 295.5,556.1 299.5,561.7 303.5,572.4 307.5,573.4 311.5,571.0 315.5,561.0 319.5,551.8 323.5,571.5 327.5,594.0 331.5,620.6 335.5,642.3 339.5,655.6 343.5,653.2 347.5,625.4 351.5,607.3 355.5,603.7 359.5,596.4 363.5,589.2 367.5,581.9 371.5,575.9 375.5,572.7 379.5,572.3 383.5,577.6 387.5,575.9 391.5,579.5 395.5,585.5 399.5,602.5 403.5,594.0 407.5,602.5 411.5,585.5 415.5,592.8 419.5,590.4 423.5,613.3 427.5,584.3 431.5,560.2 435.5,546.9 439.5,544.5 443.5,545.2 447.5,551.7 451.5,556.5 455.5,573.5 459.5,579.5 463.5,606.1 467.5,623.0 471.5,635.1 475.5,627.8 479.5,613.3 483.5,606.1 487.5,610.9 491.5,623.0 495.5,631.5 499.5,633.9 503.5,633.9 507.5,639.9 511.5,625.4 515.5,617.0 519.5,580.7 523.5,591.6 527.5,618.2 531.5,647.2 535.5,647.2 539.5,612.1 543.5,612.1 547.5,635.1 551.5,667.7 555.5,656.8 559.5,631.5 563.5,614.5 567.5,608.0 571.5,629.0 575.5,654.4 579.5,675.0 583.5,679.8 587.5,668.9 591.5,662.9 595.5,655.6 599.5,648.4" fill="none" stroke="#20b2aa" stroke-width="1" shape-rendering="crispEdges"/>
</g>
<rect x="2.5" y="2.5" width="670" height="343" fill="none" stroke="#000" stroke-width="1"/>
<rect x="2.5" y="347.5" width="670" height="187" fill="none" stroke="#000" stroke-width="1"/>
<rect x="2.5" y="536.5" width="670" height="175" fill="none" stroke="#000" stroke-width="1"/>
<line x1="673" y1="12.5" x2="675" y2="12.5" stroke="#000" stroke-width="1"/>
<text xml:space="preserve" x="677.5" y="15" font-size="10.2" text-rendering="geometricPrecision" fill="#000" stroke="#000" stroke-width="0.15" textLength="33" lengthAdjust="spacingAndGlyphs">1.06050</text>
<line x1="673" y1="45.5" x2="675" y2="45.5" stroke="#000" stroke-width="1"/>
<text xml:space="preserve" x="677.5" y="48" font-size="10.2" text-rendering="geometricPrecision" fill="#000" stroke="#000" stroke-width="0.15" textLength="33" lengthAdjust="spacingAndGlyphs">1.05785</text>
<line x1="673" y1="78.5" x2="675" y2="78.5" stroke="#000" stroke-width="1"/>
<text xml:space="preserve" x="677.5" y="81" font-size="10.2" text-rendering="geometricPrecision" fill="#000" stroke="#000" stroke-width="0.15" textLength="33" lengthAdjust="spacingAndGlyphs">1.05520</text>
<line x1="673" y1="111.5" x2="675" y2="111.5" stroke="#000" stroke-width="1"/>
<text xml:space="preserve" x="677.5" y="114" font-size="10.2" text-rendering="geometricPrecision" fill="#000" stroke="#000" stroke-width="0.15" textLength="33" lengthAdjust="spacingAndGlyphs">1.05250</text>
<line x1="673" y1="144.5" x2="675" y2="144.5" stroke="#000" stroke-width="1"/>
<text xml:space="preserve" x="677.5" y="147" font-size="10.2" text-rendering="geometricPrecision" fill="#000" stroke="#000" stroke-width="0.15" textLength="33" lengthAdjust="spacingAndGlyphs">1.04985</text>
<line x1="673" y1="177.5" x2="675" y2="177.5" stroke="#000" stroke-width="1"/>
<text xml:space="preserve" x="677.5" y="180" font-size="10.2" text-rendering="geometricPrecision" fill="#000" stroke="#000" stroke-width="0.15" textLength="33" lengthAdjust="spacingAndGlyphs">1.04720</text>
<line x1="673" y1="210.5" x2="675" y2="210.5" stroke="#000" stroke-width="1"/>
<text xml:space="preserve" x="677.5" y="213" font-size="10.2" text-rendering="geometricPrecision" fill="#000" stroke="#000" stroke-width="0.15" textLength="33" lengthAdjust="spacingAndGlyphs">1.04455</text>
<line x1="673" y1="243.5" x2="675" y2="243.5" stroke="#000" stroke-width="1"/>
<text xml:space="preserve" x="677.5" y="246" font-size="10.2" text-rendering="geometricPrecision" fill="#000" stroke="#000" stroke-width="0.15" textLength="33" lengthAdjust="spacingAndGlyphs">1.04185</text>
<line x1="673" y1="276.5" x2="675" y2="276.5" stroke="#000" stroke-width="1"/>
<text xml:space="preserve" x="677.5" y="279" font-size="10.2" text-rendering="geometricPrecision" fill="#000" stroke="#000" stroke-width="0.15" textLength="33" lengthAdjust="spacingAndGlyphs">1.03920</text>
<line x1="673" y1="309.5" x2="675" y2="309.5" stroke="#000" stroke-width="1"/>
<text xml:space="preserve" x="677.5" y="312" font-size="10.2" text-rendering="geometricPrecision" fill="#000" stroke="#000" stroke-width="0.15" textLength="33" lengthAdjust="spacingAndGlyphs">1.03655</text>
<line x1="673" y1="342.5" x2="675" y2="342.5" stroke="#000" stroke-width="1"/>
<text xml:space="preserve" x="677.5" y="345" font-size="10.2" text-rendering="geometricPrecision" fill="#000" stroke="#000" stroke-width="0.15" textLength="33" lengthAdjust="spacingAndGlyphs">1.03390</text>
<rect x="674" y="121" width="39" height="10" fill="#000"/>
<rect x="674" y="12" width="39" height="11" fill="#008080"/>
<text xml:space="preserve" x="677.5" y="21" font-size="10.2" text-rendering="geometricPrecision" fill="#fff" stroke="#fff" stroke-width="0.15" textLength="33" lengthAdjust="spacingAndGlyphs">1.06000</text>
<rect x="674" y="43" width="39" height="11" fill="#008080"/>
<text xml:space="preserve" x="677.5" y="52" font-size="10.2" text-rendering="geometricPrecision" fill="#fff" stroke="#fff" stroke-width="0.15" textLength="33" lengthAdjust="spacingAndGlyphs">1.05750</text>
<rect x="674" y="81" width="39" height="11" fill="#008080"/>
<text xml:space="preserve" x="677.5" y="90" font-size="10.2" text-rendering="geometricPrecision" fill="#fff" stroke="#fff" stroke-width="0.15" textLength="33" lengthAdjust="spacingAndGlyphs">1.05450</text>
<rect x="674" y="118" width="39" height="11" fill="#008080"/>
<text xml:space="preserve" x="677.5" y="127" font-size="10.2" text-rendering="geometricPrecision" fill="#fff" stroke="#fff" stroke-width="0.15" textLength="33" lengthAdjust="spacingAndGlyphs">1.05150</text>
<rect x="674" y="149" width="39" height="11" fill="#008080"/>
<text xml:space="preserve" x="677.5" y="158" font-size="10.2" text-rendering="geometricPrecision" fill="#fff" stroke="#fff" stroke-width="0.15" textLength="33" lengthAdjust="spacingAndGlyphs">1.04900</text>
<rect x="674" y="180" width="39" height="11" fill="#008080"/>
<text xml:space="preserve" x="677.5" y="189" font-size="10.2" text-rendering="geometricPrecision" fill="#fff" stroke="#fff" stroke-width="0.15" textLength="33" lengthAdjust="spacingAndGlyphs">1.04650</text>
<rect x="674" y="211" width="39" height="11" fill="#008080"/>
<text xml:space="preserve" x="677.5" y="220" font-size="10.2" text-rendering="geometricPrecision" fill="#fff" stroke="#fff" stroke-width="0.15" textLength="33" lengthAdjust="spacingAndGlyphs">1.04400</text>
<rect x="674" y="260" width="39" height="11" fill="#008080"/>
<text xml:space="preserve" x="677.5" y="269" font-size="10.2" text-rendering="geometricPrecision" fill="#fff" stroke="#fff" stroke-width="0.15" textLength="33" lengthAdjust="spacingAndGlyphs">1.04000</text>
<rect x="674" y="298" width="39" height="11" fill="#008080"/>
<text xml:space="preserve" x="677.5" y="307" font-size="10.2" text-rendering="geometricPrecision" fill="#fff" stroke="#fff" stroke-width="0.15" textLength="33" lengthAdjust="spacingAndGlyphs">1.03700</text>
<rect x="674" y="329" width="39" height="11" fill="#008080"/>
<text xml:space="preserve" x="677.5" y="338" font-size="10.2" text-rendering="geometricPrecision" fill="#fff" stroke="#fff" stroke-width="0.15" textLength="33" lengthAdjust="spacingAndGlyphs">1.03450</text>
<line x1="673" y1="349.5" x2="675" y2="349.5" stroke="#000" stroke-width="1"/>
<text xml:space="preserve" x="676.5" y="358" font-size="10.2" text-rendering="geometricPrecision" fill="#000" stroke="#000" stroke-width="0.15" textLength="38" lengthAdjust="spacingAndGlyphs">0.003335</text>
<line x1="673" y1="432.5" x2="675" y2="432.5" stroke="#000" stroke-width="1"/>
<text xml:space="preserve" x="676.5" y="435" font-size="10.2" text-rendering="geometricPrecision" fill="#000" stroke="#000" stroke-width="0.15" textLength="19" lengthAdjust="spacingAndGlyphs">0.00</text>
<line x1="673" y1="533.5" x2="675" y2="533.5" stroke="#000" stroke-width="1"/>
<text xml:space="preserve" x="675.5" y="531" font-size="10.2" text-rendering="geometricPrecision" fill="#000" stroke="#000" stroke-width="0.15" textLength="40" lengthAdjust="spacingAndGlyphs">-0.004063</text>
<line x1="673" y1="538.5" x2="675" y2="538.5" stroke="#000" stroke-width="1"/>
<text xml:space="preserve" x="676.5" y="547" font-size="10.2" text-rendering="geometricPrecision" fill="#000" stroke="#000" stroke-width="0.15" textLength="15" lengthAdjust="spacingAndGlyphs">100</text>
<text xml:space="preserve" x="675.5" y="575" font-size="10.2" text-rendering="geometricPrecision" fill="#000" stroke="#000" stroke-width="0.15" textLength="10.5" lengthAdjust="spacingAndGlyphs">80</text>
<text xml:space="preserve" x="675.5" y="679" font-size="10.2" text-rendering="geometricPrecision" fill="#000" stroke="#000" stroke-width="0.15" textLength="10.5" lengthAdjust="spacingAndGlyphs">20</text>
<text xml:space="preserve" x="676.5" y="708" font-size="10.2" text-rendering="geometricPrecision" fill="#000" stroke="#000" stroke-width="0.15" textLength="5.5" lengthAdjust="spacingAndGlyphs">0</text>
<line x1="3.5" y1="712" x2="3.5" y2="715" stroke="#000" stroke-width="1"/>
<text xml:space="preserve" x="2.2" y="724" font-size="10.2" text-rendering="geometricPrecision" fill="#000" stroke="#000" stroke-width="0.15" textLength="51" lengthAdjust="spacingAndGlyphs">12 Dec 2012</text>
<line x1="67.5" y1="712" x2="67.5" y2="715" stroke="#000" stroke-width="1"/>
<text xml:space="preserve" x="66.2" y="724" font-size="10.2" text-rendering="geometricPrecision" fill="#000" stroke="#000" stroke-width="0.15" textLength="54" lengthAdjust="spacingAndGlyphs">17 Dec 04:00</text>
<line x1="131.5" y1="712" x2="131.5" y2="715" stroke="#000" stroke-width="1"/>
<text xml:space="preserve" x="130.2" y="724" font-size="10.2" text-rendering="geometricPrecision" fill="#000" stroke="#000" stroke-width="0.15" textLength="54" lengthAdjust="spacingAndGlyphs">19 Dec 20:00</text>
<line x1="195.5" y1="712" x2="195.5" y2="715" stroke="#000" stroke-width="1"/>
<text xml:space="preserve" x="194.2" y="724" font-size="10.2" text-rendering="geometricPrecision" fill="#000" stroke="#000" stroke-width="0.15" textLength="54" lengthAdjust="spacingAndGlyphs">24 Dec 12:00</text>
<line x1="259.5" y1="712" x2="259.5" y2="715" stroke="#000" stroke-width="1"/>
<text xml:space="preserve" x="258.2" y="724" font-size="10.2" text-rendering="geometricPrecision" fill="#000" stroke="#000" stroke-width="0.15" textLength="54" lengthAdjust="spacingAndGlyphs">28 Dec 16:00</text>
<line x1="323.5" y1="712" x2="323.5" y2="715" stroke="#000" stroke-width="1"/>
<text xml:space="preserve" x="322.2" y="724" font-size="10.2" text-rendering="geometricPrecision" fill="#000" stroke="#000" stroke-width="0.15" textLength="47.5" lengthAdjust="spacingAndGlyphs">3 Jan 20:00</text>
<line x1="387.5" y1="712" x2="387.5" y2="715" stroke="#000" stroke-width="1"/>
<text xml:space="preserve" x="386.2" y="724" font-size="10.2" text-rendering="geometricPrecision" fill="#000" stroke="#000" stroke-width="0.15" textLength="47.5" lengthAdjust="spacingAndGlyphs">8 Jan 12:00</text>
<line x1="451.5" y1="712" x2="451.5" y2="715" stroke="#000" stroke-width="1"/>
<text xml:space="preserve" x="450.2" y="724" font-size="10.2" text-rendering="geometricPrecision" fill="#000" stroke="#000" stroke-width="0.15" textLength="53" lengthAdjust="spacingAndGlyphs">11 Jan 04:00</text>
<line x1="515.5" y1="712" x2="515.5" y2="715" stroke="#000" stroke-width="1"/>
<text xml:space="preserve" x="514.2" y="724" font-size="10.2" text-rendering="geometricPrecision" fill="#000" stroke="#000" stroke-width="0.15" textLength="53" lengthAdjust="spacingAndGlyphs">15 Jan 20:00</text>
<line x1="579.5" y1="712" x2="579.5" y2="715" stroke="#000" stroke-width="1"/>
<text xml:space="preserve" x="578.2" y="724" font-size="10.2" text-rendering="geometricPrecision" fill="#000" stroke="#000" stroke-width="0.15" textLength="53" lengthAdjust="spacingAndGlyphs">18 Jan 12:00</text>
<rect x="7" y="5" width="204" height="11" fill="#fff"/>
<text xml:space="preserve" x="7.5" y="14" font-size="10.2" text-rendering="geometricPrecision" fill="#000" stroke="#000" stroke-width="0.15" textLength="202" lengthAdjust="spacingAndGlyphs">AUDUSD,H4  1.05085 1.05159 1.05067 1.05134</text>
<text xml:space="preserve" x="7.5" y="361" font-size="10.2" text-rendering="geometricPrecision" fill="#000" stroke="#000" stroke-width="0.15" textLength="153" lengthAdjust="spacingAndGlyphs">MACD(12,26,9) -0.000927 -0.000694</text>
<text xml:space="preserve" x="7.5" y="550" font-size="10.2" text-rendering="geometricPrecision" fill="#000" stroke="#000" stroke-width="0.15" textLength="126" lengthAdjust="spacingAndGlyphs">Stoch(13,3,3) 36.4331 32.0805</text>
<text xml:space="preserve" x="4.5" y="707" font-size="10.2" text-rendering="geometricPrecision" fill="#000" stroke="#000" stroke-width="0.15" textLength="265" lengthAdjust="spacingAndGlyphs">FxPro MT4, © 2001-2012, MetaQuotes Software Corp.</text>
</svg></body></html>
